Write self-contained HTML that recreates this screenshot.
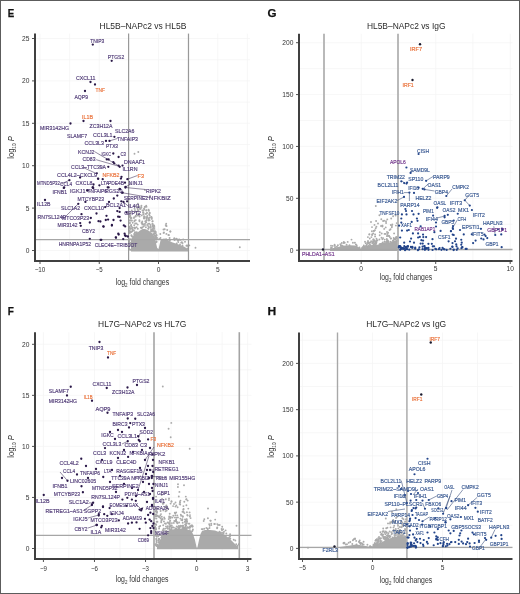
<!DOCTYPE html>
<html><head><meta charset="utf-8"><style>
html,body{margin:0;padding:0;background:#fff;}
svg{display:block;will-change:transform;}
text{font-family:"Liberation Sans",sans-serif;}
</style></head><body>
<svg width="520" height="594" viewBox="0 0 520 594">
<rect x="0" y="0" width="520" height="594" fill="#fff"/>
<text x="7.7" y="16.5" font-size="11.8" fill="#111" text-anchor="start" font-weight="bold" textLength="6.5" lengthAdjust="spacingAndGlyphs" stroke="#111" stroke-width="0.25">E</text>
<text x="142.9" y="28.8" font-size="8.6" fill="#2a2a2a" text-anchor="middle" font-weight="normal" textLength="86.8" lengthAdjust="spacingAndGlyphs">HL5B–NAPc2 vs HL5B</text>
<line x1="40" y1="33.6" x2="40" y2="261" stroke="#f4f4f4" stroke-width="0.7"/>
<line x1="69.62" y1="33.6" x2="69.62" y2="261" stroke="#f4f4f4" stroke-width="0.7"/>
<line x1="99.25" y1="33.6" x2="99.25" y2="261" stroke="#f4f4f4" stroke-width="0.7"/>
<line x1="158.5" y1="33.6" x2="158.5" y2="261" stroke="#f4f4f4" stroke-width="0.7"/>
<line x1="188.12" y1="33.6" x2="188.12" y2="261" stroke="#f4f4f4" stroke-width="0.7"/>
<line x1="217.75" y1="33.6" x2="217.75" y2="261" stroke="#f4f4f4" stroke-width="0.7"/>
<line x1="247.38" y1="33.6" x2="247.38" y2="261" stroke="#f4f4f4" stroke-width="0.7"/>
<line x1="35" y1="250.5" x2="250" y2="250.5" stroke="#f4f4f4" stroke-width="0.7"/>
<line x1="35" y1="229.3" x2="250" y2="229.3" stroke="#f4f4f4" stroke-width="0.7"/>
<line x1="35" y1="208.1" x2="250" y2="208.1" stroke="#f4f4f4" stroke-width="0.7"/>
<line x1="35" y1="186.9" x2="250" y2="186.9" stroke="#f4f4f4" stroke-width="0.7"/>
<line x1="35" y1="165.7" x2="250" y2="165.7" stroke="#f4f4f4" stroke-width="0.7"/>
<line x1="35" y1="144.5" x2="250" y2="144.5" stroke="#f4f4f4" stroke-width="0.7"/>
<line x1="35" y1="123.3" x2="250" y2="123.3" stroke="#f4f4f4" stroke-width="0.7"/>
<line x1="35" y1="102.1" x2="250" y2="102.1" stroke="#f4f4f4" stroke-width="0.7"/>
<line x1="35" y1="80.9" x2="250" y2="80.9" stroke="#f4f4f4" stroke-width="0.7"/>
<line x1="35" y1="59.7" x2="250" y2="59.7" stroke="#f4f4f4" stroke-width="0.7"/>
<line x1="35" y1="38.5" x2="250" y2="38.5" stroke="#f4f4f4" stroke-width="0.7"/>
<path d="M131.0,251.4 L131.0,240.0 L131.0,240.0 L133.0,236.0 L135.0,234.0 L137.5,232.5 L140.0,230.5 L142.6,229.0 L145.0,229.0 L148.0,230.2 L152.3,233.3 L155.0,237.7 L156.0,243.0 L157.2,248.0 L158.5,249.0 L159.7,244.0 L160.5,240.5 L162.0,239.0 L164.0,238.5 L166.0,239.0 L168.0,240.2 L172.0,242.3 L178.0,244.3 L184.0,246.5 L187.0,248.5 L188.2,249.5 L188.2,249.5 L188.2,251.4 Z" fill="#aaaaaa"/>
<g fill="#aaaaaa"><circle cx="141.7" cy="215.4" r="0.95"/><circle cx="154.9" cy="233.6" r="0.95"/><circle cx="143.2" cy="214.3" r="0.95"/><circle cx="134.2" cy="225.3" r="0.95"/><circle cx="146.6" cy="210.2" r="0.95"/><circle cx="131.6" cy="236.0" r="0.95"/><circle cx="131.5" cy="218.0" r="0.95"/><circle cx="148.4" cy="228.8" r="0.95"/><circle cx="156.5" cy="235.5" r="0.95"/><circle cx="147.3" cy="215.9" r="0.95"/><circle cx="133.4" cy="241.2" r="0.95"/><circle cx="143.8" cy="226.3" r="0.95"/><circle cx="134.3" cy="233.9" r="0.95"/><circle cx="129.8" cy="232.5" r="0.95"/><circle cx="141.3" cy="207.2" r="0.95"/><circle cx="143.5" cy="212.8" r="0.95"/><circle cx="143.0" cy="212.2" r="0.95"/><circle cx="141.8" cy="222.6" r="0.95"/><circle cx="156.9" cy="237.7" r="0.95"/><circle cx="152.5" cy="223.8" r="0.95"/><circle cx="137.8" cy="228.8" r="0.95"/><circle cx="137.1" cy="234.0" r="0.95"/><circle cx="150.5" cy="225.0" r="0.95"/><circle cx="152.7" cy="229.0" r="0.95"/><circle cx="155.8" cy="233.3" r="0.95"/><circle cx="129.0" cy="241.1" r="0.95"/><circle cx="154.5" cy="231.5" r="0.95"/><circle cx="156.5" cy="242.0" r="0.95"/><circle cx="131.0" cy="225.5" r="0.95"/><circle cx="150.8" cy="227.7" r="0.95"/><circle cx="131.4" cy="235.3" r="0.95"/><circle cx="156.0" cy="235.5" r="0.95"/><circle cx="132.3" cy="236.8" r="0.95"/><circle cx="131.8" cy="242.6" r="0.95"/><circle cx="151.3" cy="229.7" r="0.95"/><circle cx="144.7" cy="217.9" r="0.95"/><circle cx="134.3" cy="217.1" r="0.95"/><circle cx="132.7" cy="222.7" r="0.95"/><circle cx="132.3" cy="231.2" r="0.95"/><circle cx="135.0" cy="232.2" r="0.95"/><circle cx="156.2" cy="235.8" r="0.95"/><circle cx="137.5" cy="208.2" r="0.95"/><circle cx="134.9" cy="228.4" r="0.95"/><circle cx="152.9" cy="225.8" r="0.95"/><circle cx="131.8" cy="210.5" r="0.95"/><circle cx="135.0" cy="232.6" r="0.95"/><circle cx="150.6" cy="226.5" r="0.95"/><circle cx="137.3" cy="233.5" r="0.95"/><circle cx="131.5" cy="226.6" r="0.95"/><circle cx="135.8" cy="220.1" r="0.95"/><circle cx="139.4" cy="220.2" r="0.95"/><circle cx="155.9" cy="238.6" r="0.95"/><circle cx="145.1" cy="206.7" r="0.95"/><circle cx="134.1" cy="236.8" r="0.95"/><circle cx="154.4" cy="226.9" r="0.95"/><circle cx="136.0" cy="232.9" r="0.95"/><circle cx="149.7" cy="212.7" r="0.95"/><circle cx="134.5" cy="208.6" r="0.95"/><circle cx="153.7" cy="228.1" r="0.95"/><circle cx="140.8" cy="227.6" r="0.95"/><circle cx="130.1" cy="214.0" r="0.95"/><circle cx="135.7" cy="216.6" r="0.95"/><circle cx="136.2" cy="211.7" r="0.95"/><circle cx="145.7" cy="221.8" r="0.95"/><circle cx="133.9" cy="218.0" r="0.95"/><circle cx="130.9" cy="239.3" r="0.95"/><circle cx="144.7" cy="207.0" r="0.95"/><circle cx="146.2" cy="222.4" r="0.95"/><circle cx="154.7" cy="235.7" r="0.95"/><circle cx="129.5" cy="239.1" r="0.95"/><circle cx="141.5" cy="227.7" r="0.95"/><circle cx="133.9" cy="230.5" r="0.95"/><circle cx="145.0" cy="225.1" r="0.95"/><circle cx="139.1" cy="206.5" r="0.95"/><circle cx="156.5" cy="239.0" r="0.95"/><circle cx="148.4" cy="218.3" r="0.95"/><circle cx="132.9" cy="241.5" r="0.95"/><circle cx="129.5" cy="216.8" r="0.95"/><circle cx="148.6" cy="209.8" r="0.95"/><circle cx="129.6" cy="226.8" r="0.95"/><circle cx="142.5" cy="210.4" r="0.95"/><circle cx="137.9" cy="203.7" r="0.95"/><circle cx="131.1" cy="228.5" r="0.95"/><circle cx="149.6" cy="213.4" r="0.95"/><circle cx="149.6" cy="217.7" r="0.95"/><circle cx="151.2" cy="217.0" r="0.95"/><circle cx="138.9" cy="213.6" r="0.95"/><circle cx="154.2" cy="225.7" r="0.95"/><circle cx="140.7" cy="208.8" r="0.95"/><circle cx="153.2" cy="227.4" r="0.95"/><circle cx="146.5" cy="220.4" r="0.95"/><circle cx="145.3" cy="213.9" r="0.95"/><circle cx="131.2" cy="224.9" r="0.95"/><circle cx="156.8" cy="238.2" r="0.95"/><circle cx="149.4" cy="223.8" r="0.95"/><circle cx="149.6" cy="220.2" r="0.95"/><circle cx="141.3" cy="207.3" r="0.95"/><circle cx="131.3" cy="220.6" r="0.95"/><circle cx="129.8" cy="227.8" r="0.95"/><circle cx="142.5" cy="223.4" r="0.95"/><circle cx="148.6" cy="220.5" r="0.95"/><circle cx="146.2" cy="205.8" r="0.95"/><circle cx="136.2" cy="236.8" r="0.95"/><circle cx="137.4" cy="215.5" r="0.95"/><circle cx="134.7" cy="235.6" r="0.95"/><circle cx="154.4" cy="228.9" r="0.95"/><circle cx="141.4" cy="205.6" r="0.95"/><circle cx="138.2" cy="215.1" r="0.95"/><circle cx="134.6" cy="227.6" r="0.95"/><circle cx="151.6" cy="218.0" r="0.95"/><circle cx="153.6" cy="230.9" r="0.95"/><circle cx="145.3" cy="221.2" r="0.95"/><circle cx="132.8" cy="227.8" r="0.95"/><circle cx="152.4" cy="221.4" r="0.95"/><circle cx="148.9" cy="210.8" r="0.95"/><circle cx="136.8" cy="232.2" r="0.95"/><circle cx="141.6" cy="222.9" r="0.95"/><circle cx="135.0" cy="227.6" r="0.95"/><circle cx="146.5" cy="217.7" r="0.95"/><circle cx="137.8" cy="209.5" r="0.95"/><circle cx="156.5" cy="241.5" r="0.95"/><circle cx="131.1" cy="244.3" r="0.95"/><circle cx="153.4" cy="234.3" r="0.95"/><circle cx="148.8" cy="219.3" r="0.95"/><circle cx="137.7" cy="211.4" r="0.95"/><circle cx="129.5" cy="242.8" r="0.95"/><circle cx="141.7" cy="228.0" r="0.95"/><circle cx="152.2" cy="230.1" r="0.95"/><circle cx="132.9" cy="241.2" r="0.95"/><circle cx="146.6" cy="219.0" r="0.95"/><circle cx="146.6" cy="213.8" r="0.95"/><circle cx="151.6" cy="217.3" r="0.95"/><circle cx="148.2" cy="226.1" r="0.95"/><circle cx="142.3" cy="224.6" r="0.95"/><circle cx="129.3" cy="232.7" r="0.95"/><circle cx="149.0" cy="227.2" r="0.95"/><circle cx="136.6" cy="227.3" r="0.95"/><circle cx="148.5" cy="219.9" r="0.95"/><circle cx="146.2" cy="210.4" r="0.95"/><circle cx="140.0" cy="208.9" r="0.95"/><circle cx="154.4" cy="235.5" r="0.95"/><circle cx="155.1" cy="231.1" r="0.95"/><circle cx="132.6" cy="229.5" r="0.95"/><circle cx="146.5" cy="206.7" r="0.95"/><circle cx="139.6" cy="216.5" r="0.95"/><circle cx="153.6" cy="225.2" r="0.95"/><circle cx="155.4" cy="237.0" r="0.95"/><circle cx="147.2" cy="225.0" r="0.95"/><circle cx="149.2" cy="214.4" r="0.95"/><circle cx="147.0" cy="212.7" r="0.95"/><circle cx="135.0" cy="210.1" r="0.95"/><circle cx="156.5" cy="235.0" r="0.95"/><circle cx="144.0" cy="208.6" r="0.95"/><circle cx="138.0" cy="206.9" r="0.95"/><circle cx="153.0" cy="230.0" r="0.95"/><circle cx="131.3" cy="231.9" r="0.95"/><circle cx="144.4" cy="209.3" r="0.95"/><circle cx="142.6" cy="227.3" r="0.95"/><circle cx="151.7" cy="231.4" r="0.95"/><circle cx="151.4" cy="229.8" r="0.95"/><circle cx="138.4" cy="210.7" r="0.95"/><circle cx="132.9" cy="238.7" r="0.95"/><circle cx="143.5" cy="210.5" r="0.95"/><circle cx="152.5" cy="224.1" r="0.95"/><circle cx="155.5" cy="236.9" r="0.95"/><circle cx="155.6" cy="242.5" r="0.95"/><circle cx="135.2" cy="223.5" r="0.95"/><circle cx="137.1" cy="214.1" r="0.95"/><circle cx="146.9" cy="217.5" r="0.95"/><circle cx="152.6" cy="226.3" r="0.95"/><circle cx="137.7" cy="224.6" r="0.95"/><circle cx="152.7" cy="221.1" r="0.95"/><circle cx="134.8" cy="212.1" r="0.95"/><circle cx="156.1" cy="239.1" r="0.95"/><circle cx="145.0" cy="223.7" r="0.95"/><circle cx="144.0" cy="216.3" r="0.95"/><circle cx="145.9" cy="227.2" r="0.95"/><circle cx="156.1" cy="239.4" r="0.95"/><circle cx="140.2" cy="208.6" r="0.95"/><circle cx="144.8" cy="216.8" r="0.95"/><circle cx="148.3" cy="228.5" r="0.95"/><circle cx="144.1" cy="218.6" r="0.95"/><circle cx="155.8" cy="231.9" r="0.95"/><circle cx="136.5" cy="223.5" r="0.95"/><circle cx="132.6" cy="230.3" r="0.95"/><circle cx="151.8" cy="218.9" r="0.95"/><circle cx="142.3" cy="221.4" r="0.95"/><circle cx="134.4" cy="221.3" r="0.95"/><circle cx="154.9" cy="237.9" r="0.95"/><circle cx="150.8" cy="231.1" r="0.95"/><circle cx="134.4" cy="234.2" r="0.95"/><circle cx="148.2" cy="223.7" r="0.95"/><circle cx="138.9" cy="215.6" r="0.95"/><circle cx="131.9" cy="220.5" r="0.95"/><circle cx="132.4" cy="227.8" r="0.95"/><circle cx="136.0" cy="232.6" r="0.95"/><circle cx="143.8" cy="218.0" r="0.95"/><circle cx="139.5" cy="221.2" r="0.95"/><circle cx="143.8" cy="224.4" r="0.95"/><circle cx="134.7" cy="220.4" r="0.95"/><circle cx="146.9" cy="217.3" r="0.95"/><circle cx="152.8" cy="226.0" r="0.95"/><circle cx="153.0" cy="231.5" r="0.95"/><circle cx="149.7" cy="215.6" r="0.95"/><circle cx="154.3" cy="232.9" r="0.95"/><circle cx="137.8" cy="206.6" r="0.95"/><circle cx="135.1" cy="206.1" r="0.95"/><circle cx="153.9" cy="234.1" r="0.95"/><circle cx="135.7" cy="215.8" r="0.95"/><circle cx="136.3" cy="234.8" r="0.95"/><circle cx="130.6" cy="231.6" r="0.95"/><circle cx="130.6" cy="243.6" r="0.95"/><circle cx="129.7" cy="223.1" r="0.95"/><circle cx="128.9" cy="240.7" r="0.95"/><circle cx="130.3" cy="215.4" r="0.95"/><circle cx="130.9" cy="244.1" r="0.95"/><circle cx="130.0" cy="220.5" r="0.95"/><circle cx="130.0" cy="222.9" r="0.95"/><circle cx="129.3" cy="246.5" r="0.95"/><circle cx="129.1" cy="248.3" r="0.95"/><circle cx="130.1" cy="228.6" r="0.95"/><circle cx="130.1" cy="242.8" r="0.95"/><circle cx="129.3" cy="240.5" r="0.95"/><circle cx="130.7" cy="212.6" r="0.95"/><circle cx="130.8" cy="245.1" r="0.95"/><circle cx="129.0" cy="215.3" r="0.95"/><circle cx="129.9" cy="220.4" r="0.95"/><circle cx="129.6" cy="230.5" r="0.95"/><circle cx="130.0" cy="231.6" r="0.95"/><circle cx="130.2" cy="249.8" r="0.95"/><circle cx="130.4" cy="217.5" r="0.95"/><circle cx="129.3" cy="231.1" r="0.95"/><circle cx="130.5" cy="232.3" r="0.95"/><circle cx="129.3" cy="242.2" r="0.95"/><circle cx="130.0" cy="249.6" r="0.95"/><circle cx="130.8" cy="218.5" r="0.95"/><circle cx="130.4" cy="216.9" r="0.95"/><circle cx="130.2" cy="232.5" r="0.95"/><circle cx="130.2" cy="228.9" r="0.95"/><circle cx="131.0" cy="218.2" r="0.95"/><circle cx="166.5" cy="226.1" r="0.95"/><circle cx="180.6" cy="239.9" r="0.95"/><circle cx="182.6" cy="243.1" r="0.95"/><circle cx="185.0" cy="241.7" r="0.95"/><circle cx="179.1" cy="239.5" r="0.95"/><circle cx="181.2" cy="242.6" r="0.95"/><circle cx="180.0" cy="244.5" r="0.95"/><circle cx="168.9" cy="235.1" r="0.95"/><circle cx="159.3" cy="239.0" r="0.95"/><circle cx="177.5" cy="240.0" r="0.95"/><circle cx="165.7" cy="225.1" r="0.95"/><circle cx="178.3" cy="242.1" r="0.95"/><circle cx="178.1" cy="240.5" r="0.95"/><circle cx="174.5" cy="240.0" r="0.95"/><circle cx="188.0" cy="245.8" r="0.95"/><circle cx="179.3" cy="239.6" r="0.95"/><circle cx="187.4" cy="248.5" r="0.95"/><circle cx="176.8" cy="239.0" r="0.95"/><circle cx="166.4" cy="233.9" r="0.95"/><circle cx="160.5" cy="238.0" r="0.95"/><circle cx="169.9" cy="240.4" r="0.95"/><circle cx="166.3" cy="225.9" r="0.95"/><circle cx="175.0" cy="239.5" r="0.95"/><circle cx="187.0" cy="245.4" r="0.95"/><circle cx="187.9" cy="245.7" r="0.95"/><circle cx="182.5" cy="245.4" r="0.95"/><circle cx="176.3" cy="238.7" r="0.95"/><circle cx="160.3" cy="234.0" r="0.95"/><circle cx="163.6" cy="232.9" r="0.95"/><circle cx="163.9" cy="232.5" r="0.95"/><circle cx="176.7" cy="243.5" r="0.95"/><circle cx="186.4" cy="245.7" r="0.95"/><circle cx="174.3" cy="238.2" r="0.95"/><circle cx="169.6" cy="238.0" r="0.95"/><circle cx="178.0" cy="240.5" r="0.95"/><circle cx="167.2" cy="230.0" r="0.95"/><circle cx="167.6" cy="240.4" r="0.95"/><circle cx="166.1" cy="239.2" r="0.95"/><circle cx="163.5" cy="229.5" r="0.95"/><circle cx="170.3" cy="231.5" r="0.95"/><circle cx="195.5" cy="247.7" r="0.95"/><circle cx="239.8" cy="247.3" r="0.95"/><circle cx="189.3" cy="245.4" r="0.95"/><circle cx="138.3" cy="152.0" r="0.95"/><circle cx="134.5" cy="153.8" r="0.95"/><circle cx="141.0" cy="160.0" r="0.95"/><circle cx="145.0" cy="190.0" r="0.95"/><circle cx="150.0" cy="196.0" r="0.95"/><circle cx="166.2" cy="223.8" r="0.95"/><circle cx="170.4" cy="231.5" r="0.95"/><circle cx="164.7" cy="229.2" r="0.95"/><circle cx="168.4" cy="235.0" r="0.95"/><circle cx="174.2" cy="238.9" r="0.95"/><circle cx="183.2" cy="239.5" r="0.95"/><circle cx="181.9" cy="242.3" r="0.95"/></g>
<line x1="128.6" y1="33.6" x2="128.6" y2="261" stroke="#999" stroke-width="1.2"/>
<line x1="188.5" y1="33.6" x2="188.5" y2="261" stroke="#999" stroke-width="1.2"/>
<line x1="35" y1="239.6" x2="250" y2="239.6" stroke="#a6a6a6" stroke-width="1.3"/>
<line x1="35" y1="33.6" x2="35" y2="262" stroke="#404040" stroke-width="2"/>
<line x1="34" y1="261" x2="250" y2="261" stroke="#404040" stroke-width="2"/>
<line x1="32" y1="250.5" x2="35" y2="250.5" stroke="#404040" stroke-width="0.9"/>
<text x="29.4" y="253" font-size="7" fill="#333" text-anchor="end" font-weight="normal" textLength="3.7" lengthAdjust="spacingAndGlyphs">0</text>
<line x1="32" y1="208.1" x2="35" y2="208.1" stroke="#404040" stroke-width="0.9"/>
<text x="29.4" y="210.6" font-size="7" fill="#333" text-anchor="end" font-weight="normal" textLength="3.7" lengthAdjust="spacingAndGlyphs">5</text>
<line x1="32" y1="165.7" x2="35" y2="165.7" stroke="#404040" stroke-width="0.9"/>
<text x="29.4" y="168.2" font-size="7" fill="#333" text-anchor="end" font-weight="normal" textLength="7.4" lengthAdjust="spacingAndGlyphs">10</text>
<line x1="32" y1="123.3" x2="35" y2="123.3" stroke="#404040" stroke-width="0.9"/>
<text x="29.4" y="125.8" font-size="7" fill="#333" text-anchor="end" font-weight="normal" textLength="7.4" lengthAdjust="spacingAndGlyphs">15</text>
<line x1="32" y1="80.9" x2="35" y2="80.9" stroke="#404040" stroke-width="0.9"/>
<text x="29.4" y="83.4" font-size="7" fill="#333" text-anchor="end" font-weight="normal" textLength="7.4" lengthAdjust="spacingAndGlyphs">20</text>
<line x1="32" y1="38.5" x2="35" y2="38.5" stroke="#404040" stroke-width="0.9"/>
<text x="29.4" y="41" font-size="7" fill="#333" text-anchor="end" font-weight="normal" textLength="7.4" lengthAdjust="spacingAndGlyphs">25</text>
<line x1="40" y1="261" x2="40" y2="264" stroke="#404040" stroke-width="0.9"/>
<text x="40" y="272.2" font-size="7" fill="#333" text-anchor="middle" font-weight="normal" textLength="10.7" lengthAdjust="spacingAndGlyphs">−10</text>
<line x1="99.25" y1="261" x2="99.25" y2="264" stroke="#404040" stroke-width="0.9"/>
<text x="99.25" y="272.2" font-size="7" fill="#333" text-anchor="middle" font-weight="normal" textLength="7.0" lengthAdjust="spacingAndGlyphs">−5</text>
<line x1="158.5" y1="261" x2="158.5" y2="264" stroke="#404040" stroke-width="0.9"/>
<text x="158.5" y="272.2" font-size="7" fill="#333" text-anchor="middle" font-weight="normal" textLength="3.7" lengthAdjust="spacingAndGlyphs">0</text>
<line x1="217.75" y1="261" x2="217.75" y2="264" stroke="#404040" stroke-width="0.9"/>
<text x="217.75" y="272.2" font-size="7" fill="#333" text-anchor="middle" font-weight="normal" textLength="3.7" lengthAdjust="spacingAndGlyphs">5</text>
<text x="115.7" y="284.6" font-size="8.4" fill="#333" textLength="53.5" lengthAdjust="spacingAndGlyphs">log<tspan font-size="5.4" dy="1.9">2</tspan><tspan dy="-1.9"> fold changes</tspan></text>
<text transform="translate(14.4,147.5) rotate(-90)" x="0" y="0" font-size="8.4" fill="#333" text-anchor="middle" textLength="22.5" lengthAdjust="spacingAndGlyphs">log<tspan font-size="5.2" dy="1.7">10</tspan><tspan dy="-1.7" font-style="italic"> P</tspan></text>
<text x="7.7" y="314.7" font-size="11.8" fill="#111" text-anchor="start" font-weight="bold" textLength="6.1" lengthAdjust="spacingAndGlyphs" stroke="#111" stroke-width="0.25">F</text>
<text x="142.2" y="326.8" font-size="8.6" fill="#2a2a2a" text-anchor="middle" font-weight="normal" textLength="88.3" lengthAdjust="spacingAndGlyphs">HL7G–NAPc2 vs HL7G</text>
<line x1="43.42" y1="332.2" x2="43.42" y2="559" stroke="#f4f4f4" stroke-width="0.7"/>
<line x1="68.95" y1="332.2" x2="68.95" y2="559" stroke="#f4f4f4" stroke-width="0.7"/>
<line x1="94.48" y1="332.2" x2="94.48" y2="559" stroke="#f4f4f4" stroke-width="0.7"/>
<line x1="120.01" y1="332.2" x2="120.01" y2="559" stroke="#f4f4f4" stroke-width="0.7"/>
<line x1="145.54" y1="332.2" x2="145.54" y2="559" stroke="#f4f4f4" stroke-width="0.7"/>
<line x1="171.07" y1="332.2" x2="171.07" y2="559" stroke="#f4f4f4" stroke-width="0.7"/>
<line x1="196.6" y1="332.2" x2="196.6" y2="559" stroke="#f4f4f4" stroke-width="0.7"/>
<line x1="222.13" y1="332.2" x2="222.13" y2="559" stroke="#f4f4f4" stroke-width="0.7"/>
<line x1="247.66" y1="332.2" x2="247.66" y2="559" stroke="#f4f4f4" stroke-width="0.7"/>
<line x1="35" y1="548.5" x2="251.5" y2="548.5" stroke="#f4f4f4" stroke-width="0.7"/>
<line x1="35" y1="522.98" x2="251.5" y2="522.98" stroke="#f4f4f4" stroke-width="0.7"/>
<line x1="35" y1="497.45" x2="251.5" y2="497.45" stroke="#f4f4f4" stroke-width="0.7"/>
<line x1="35" y1="471.93" x2="251.5" y2="471.93" stroke="#f4f4f4" stroke-width="0.7"/>
<line x1="35" y1="446.4" x2="251.5" y2="446.4" stroke="#f4f4f4" stroke-width="0.7"/>
<line x1="35" y1="420.88" x2="251.5" y2="420.88" stroke="#f4f4f4" stroke-width="0.7"/>
<line x1="35" y1="395.35" x2="251.5" y2="395.35" stroke="#f4f4f4" stroke-width="0.7"/>
<line x1="35" y1="369.82" x2="251.5" y2="369.82" stroke="#f4f4f4" stroke-width="0.7"/>
<line x1="35" y1="344.3" x2="251.5" y2="344.3" stroke="#f4f4f4" stroke-width="0.7"/>
<path d="M157.0,549.3 L157.0,545.0 L158.0,545.0 L160.0,540.0 L163.0,535.0 L166.0,532.0 L170.0,530.0 L175.0,529.0 L180.0,528.5 L185.0,529.0 L189.0,530.0 L191.5,531.5 L193.0,534.0 L195.0,540.0 L196.6,547.5 L197.4,547.5 L199.0,540.0 L200.5,534.0 L202.0,531.0 L205.0,530.0 L210.0,530.0 L215.0,530.5 L220.0,532.5 L225.0,535.0 L230.0,539.0 L234.0,543.0 L237.0,546.0 L238.0,546.0 L238.0,549.3 Z" fill="#aaaaaa"/>
<g fill="#aaaaaa"><circle cx="183.7" cy="528.8" r="0.95"/><circle cx="192.6" cy="526.6" r="0.95"/><circle cx="158.7" cy="516.8" r="0.95"/><circle cx="171.9" cy="523.1" r="0.95"/><circle cx="192.0" cy="531.4" r="0.95"/><circle cx="175.4" cy="506.6" r="0.95"/><circle cx="182.7" cy="522.8" r="0.95"/><circle cx="192.2" cy="525.4" r="0.95"/><circle cx="178.3" cy="528.1" r="0.95"/><circle cx="179.1" cy="522.5" r="0.95"/><circle cx="163.5" cy="534.3" r="0.95"/><circle cx="175.5" cy="528.4" r="0.95"/><circle cx="172.4" cy="517.6" r="0.95"/><circle cx="172.9" cy="527.2" r="0.95"/><circle cx="177.5" cy="523.4" r="0.95"/><circle cx="184.8" cy="521.8" r="0.95"/><circle cx="192.9" cy="529.5" r="0.95"/><circle cx="183.2" cy="527.1" r="0.95"/><circle cx="160.2" cy="515.4" r="0.95"/><circle cx="185.0" cy="519.5" r="0.95"/><circle cx="169.3" cy="528.0" r="0.95"/><circle cx="181.3" cy="520.1" r="0.95"/><circle cx="177.9" cy="517.4" r="0.95"/><circle cx="183.9" cy="527.7" r="0.95"/><circle cx="165.2" cy="507.5" r="0.95"/><circle cx="189.9" cy="516.6" r="0.95"/><circle cx="157.5" cy="545.6" r="0.95"/><circle cx="166.0" cy="526.4" r="0.95"/><circle cx="179.1" cy="528.2" r="0.95"/><circle cx="176.0" cy="528.7" r="0.95"/><circle cx="159.2" cy="526.7" r="0.95"/><circle cx="176.4" cy="517.8" r="0.95"/><circle cx="169.8" cy="523.5" r="0.95"/><circle cx="163.8" cy="530.3" r="0.95"/><circle cx="183.6" cy="512.0" r="0.95"/><circle cx="158.8" cy="542.4" r="0.95"/><circle cx="185.9" cy="520.0" r="0.95"/><circle cx="184.4" cy="527.5" r="0.95"/><circle cx="171.7" cy="527.5" r="0.95"/><circle cx="186.0" cy="525.6" r="0.95"/><circle cx="180.2" cy="504.6" r="0.95"/><circle cx="168.0" cy="522.4" r="0.95"/><circle cx="183.6" cy="509.0" r="0.95"/><circle cx="171.8" cy="525.5" r="0.95"/><circle cx="159.6" cy="517.0" r="0.95"/><circle cx="158.9" cy="542.4" r="0.95"/><circle cx="176.9" cy="521.9" r="0.95"/><circle cx="181.4" cy="525.9" r="0.95"/><circle cx="184.7" cy="528.8" r="0.95"/><circle cx="163.9" cy="521.4" r="0.95"/><circle cx="159.0" cy="538.8" r="0.95"/><circle cx="182.8" cy="516.7" r="0.95"/><circle cx="166.5" cy="531.0" r="0.95"/><circle cx="169.2" cy="516.4" r="0.95"/><circle cx="169.6" cy="529.7" r="0.95"/><circle cx="182.2" cy="520.2" r="0.95"/><circle cx="190.0" cy="515.1" r="0.95"/><circle cx="189.8" cy="526.4" r="0.95"/><circle cx="185.7" cy="526.6" r="0.95"/><circle cx="167.8" cy="526.2" r="0.95"/><circle cx="190.6" cy="518.1" r="0.95"/><circle cx="165.2" cy="528.6" r="0.95"/><circle cx="169.5" cy="526.2" r="0.95"/><circle cx="170.6" cy="525.4" r="0.95"/><circle cx="163.2" cy="525.2" r="0.95"/><circle cx="185.5" cy="521.9" r="0.95"/><circle cx="186.9" cy="522.0" r="0.95"/><circle cx="162.5" cy="519.1" r="0.95"/><circle cx="188.6" cy="527.8" r="0.95"/><circle cx="156.8" cy="536.8" r="0.95"/><circle cx="176.1" cy="519.8" r="0.95"/><circle cx="191.8" cy="526.0" r="0.95"/><circle cx="185.8" cy="529.0" r="0.95"/><circle cx="176.2" cy="512.4" r="0.95"/><circle cx="159.1" cy="541.9" r="0.95"/><circle cx="183.3" cy="509.7" r="0.95"/><circle cx="159.1" cy="528.5" r="0.95"/><circle cx="161.3" cy="520.9" r="0.95"/><circle cx="180.0" cy="526.5" r="0.95"/><circle cx="164.2" cy="517.4" r="0.95"/><circle cx="175.3" cy="513.5" r="0.95"/><circle cx="170.6" cy="526.4" r="0.95"/><circle cx="191.8" cy="525.9" r="0.95"/><circle cx="174.3" cy="521.0" r="0.95"/><circle cx="182.7" cy="516.2" r="0.95"/><circle cx="189.9" cy="527.0" r="0.95"/><circle cx="186.6" cy="519.1" r="0.95"/><circle cx="187.6" cy="515.6" r="0.95"/><circle cx="186.9" cy="512.3" r="0.95"/><circle cx="191.4" cy="525.5" r="0.95"/><circle cx="175.4" cy="515.4" r="0.95"/><circle cx="185.7" cy="524.6" r="0.95"/><circle cx="171.6" cy="528.9" r="0.95"/><circle cx="183.4" cy="506.1" r="0.95"/><circle cx="169.9" cy="529.1" r="0.95"/><circle cx="163.6" cy="528.7" r="0.95"/><circle cx="166.8" cy="507.2" r="0.95"/><circle cx="158.2" cy="540.6" r="0.95"/><circle cx="160.2" cy="526.0" r="0.95"/><circle cx="184.7" cy="528.0" r="0.95"/><circle cx="158.3" cy="536.3" r="0.95"/><circle cx="177.6" cy="507.2" r="0.95"/><circle cx="157.3" cy="545.4" r="0.95"/><circle cx="162.8" cy="533.5" r="0.95"/><circle cx="164.7" cy="518.8" r="0.95"/><circle cx="178.0" cy="527.0" r="0.95"/><circle cx="162.8" cy="532.5" r="0.95"/><circle cx="162.4" cy="519.3" r="0.95"/><circle cx="167.5" cy="522.6" r="0.95"/><circle cx="186.2" cy="523.6" r="0.95"/><circle cx="165.6" cy="511.3" r="0.95"/><circle cx="189.8" cy="527.9" r="0.95"/><circle cx="176.3" cy="505.5" r="0.95"/><circle cx="173.9" cy="527.6" r="0.95"/><circle cx="157.8" cy="515.7" r="0.95"/><circle cx="185.7" cy="525.2" r="0.95"/><circle cx="175.5" cy="521.3" r="0.95"/><circle cx="166.2" cy="506.4" r="0.95"/><circle cx="180.3" cy="526.7" r="0.95"/><circle cx="156.4" cy="538.9" r="0.95"/><circle cx="169.7" cy="513.7" r="0.95"/><circle cx="182.4" cy="519.2" r="0.95"/><circle cx="161.8" cy="536.0" r="0.95"/><circle cx="167.9" cy="528.8" r="0.95"/><circle cx="188.2" cy="523.6" r="0.95"/><circle cx="179.6" cy="504.1" r="0.95"/><circle cx="165.9" cy="523.7" r="0.95"/><circle cx="161.6" cy="519.6" r="0.95"/><circle cx="156.1" cy="524.8" r="0.95"/><circle cx="187.3" cy="514.9" r="0.95"/><circle cx="159.0" cy="539.4" r="0.95"/><circle cx="182.5" cy="528.4" r="0.95"/><circle cx="173.8" cy="522.9" r="0.95"/><circle cx="191.4" cy="526.2" r="0.95"/><circle cx="187.7" cy="527.3" r="0.95"/><circle cx="185.2" cy="524.5" r="0.95"/><circle cx="189.9" cy="530.3" r="0.95"/><circle cx="186.6" cy="528.1" r="0.95"/><circle cx="176.1" cy="521.0" r="0.95"/><circle cx="161.8" cy="516.7" r="0.95"/><circle cx="167.5" cy="528.1" r="0.95"/><circle cx="158.8" cy="539.2" r="0.95"/><circle cx="173.3" cy="515.8" r="0.95"/><circle cx="169.3" cy="517.7" r="0.95"/><circle cx="159.9" cy="534.6" r="0.95"/><circle cx="173.1" cy="506.1" r="0.95"/><circle cx="186.7" cy="519.5" r="0.95"/><circle cx="156.5" cy="541.6" r="0.95"/><circle cx="182.3" cy="527.0" r="0.95"/><circle cx="176.9" cy="522.6" r="0.95"/><circle cx="156.4" cy="515.0" r="0.95"/><circle cx="185.6" cy="527.9" r="0.95"/><circle cx="178.8" cy="525.9" r="0.95"/><circle cx="169.9" cy="521.9" r="0.95"/><circle cx="167.0" cy="527.9" r="0.95"/><circle cx="170.5" cy="518.0" r="0.95"/><circle cx="165.5" cy="531.1" r="0.95"/><circle cx="183.1" cy="525.7" r="0.95"/><circle cx="191.0" cy="526.0" r="0.95"/><circle cx="182.8" cy="525.6" r="0.95"/><circle cx="186.6" cy="529.1" r="0.95"/><circle cx="161.2" cy="537.6" r="0.95"/><circle cx="181.1" cy="515.7" r="0.95"/><circle cx="162.7" cy="530.3" r="0.95"/><circle cx="187.0" cy="521.3" r="0.95"/><circle cx="159.3" cy="539.5" r="0.95"/><circle cx="161.8" cy="536.3" r="0.95"/><circle cx="171.1" cy="529.6" r="0.95"/><circle cx="190.1" cy="526.9" r="0.95"/><circle cx="174.9" cy="517.6" r="0.95"/><circle cx="184.4" cy="513.1" r="0.95"/><circle cx="170.3" cy="526.6" r="0.95"/><circle cx="171.2" cy="529.7" r="0.95"/><circle cx="170.8" cy="516.9" r="0.95"/><circle cx="192.3" cy="526.6" r="0.95"/><circle cx="180.4" cy="518.6" r="0.95"/><circle cx="156.7" cy="542.5" r="0.95"/><circle cx="168.7" cy="519.1" r="0.95"/><circle cx="159.9" cy="535.0" r="0.95"/><circle cx="174.8" cy="512.7" r="0.95"/><circle cx="186.5" cy="520.6" r="0.95"/><circle cx="161.9" cy="519.5" r="0.95"/><circle cx="189.4" cy="523.8" r="0.95"/><circle cx="169.0" cy="523.3" r="0.95"/><circle cx="161.2" cy="522.3" r="0.95"/><circle cx="192.5" cy="530.7" r="0.95"/><circle cx="182.5" cy="511.7" r="0.95"/><circle cx="163.3" cy="510.4" r="0.95"/><circle cx="179.2" cy="527.2" r="0.95"/><circle cx="159.1" cy="539.8" r="0.95"/><circle cx="177.3" cy="515.4" r="0.95"/><circle cx="168.2" cy="508.8" r="0.95"/><circle cx="169.4" cy="524.1" r="0.95"/><circle cx="160.6" cy="511.0" r="0.95"/><circle cx="161.0" cy="514.1" r="0.95"/><circle cx="176.1" cy="520.0" r="0.95"/><circle cx="176.7" cy="526.5" r="0.95"/><circle cx="189.6" cy="512.4" r="0.95"/><circle cx="186.2" cy="520.7" r="0.95"/><circle cx="160.5" cy="518.3" r="0.95"/><circle cx="166.7" cy="510.5" r="0.95"/><circle cx="164.9" cy="523.4" r="0.95"/><circle cx="186.7" cy="528.4" r="0.95"/><circle cx="176.3" cy="528.6" r="0.95"/><circle cx="157.2" cy="544.7" r="0.95"/><circle cx="192.5" cy="526.0" r="0.95"/><circle cx="180.4" cy="525.6" r="0.95"/><circle cx="180.8" cy="514.6" r="0.95"/><circle cx="170.1" cy="520.4" r="0.95"/><circle cx="185.7" cy="529.2" r="0.95"/><circle cx="155.2" cy="526.7" r="0.95"/><circle cx="155.0" cy="529.8" r="0.95"/><circle cx="156.3" cy="538.9" r="0.95"/><circle cx="156.1" cy="534.9" r="0.95"/><circle cx="156.2" cy="532.0" r="0.95"/><circle cx="156.5" cy="546.0" r="0.95"/><circle cx="156.5" cy="540.3" r="0.95"/><circle cx="157.4" cy="521.8" r="0.95"/><circle cx="156.0" cy="528.9" r="0.95"/><circle cx="156.4" cy="518.6" r="0.95"/><circle cx="156.8" cy="516.4" r="0.95"/><circle cx="156.0" cy="508.2" r="0.95"/><circle cx="157.0" cy="512.8" r="0.95"/><circle cx="155.8" cy="528.0" r="0.95"/><circle cx="156.2" cy="511.1" r="0.95"/><circle cx="156.1" cy="524.5" r="0.95"/><circle cx="155.9" cy="511.2" r="0.95"/><circle cx="155.5" cy="545.0" r="0.95"/><circle cx="156.7" cy="511.3" r="0.95"/><circle cx="156.7" cy="521.8" r="0.95"/><circle cx="156.8" cy="533.2" r="0.95"/><circle cx="156.3" cy="544.1" r="0.95"/><circle cx="155.0" cy="527.5" r="0.95"/><circle cx="156.1" cy="529.4" r="0.95"/><circle cx="154.8" cy="518.4" r="0.95"/><circle cx="156.1" cy="535.9" r="0.95"/><circle cx="155.5" cy="529.5" r="0.95"/><circle cx="155.3" cy="544.2" r="0.95"/><circle cx="157.2" cy="509.1" r="0.95"/><circle cx="156.5" cy="512.4" r="0.95"/><circle cx="155.8" cy="514.5" r="0.95"/><circle cx="155.2" cy="516.5" r="0.95"/><circle cx="156.2" cy="511.2" r="0.95"/><circle cx="154.9" cy="515.0" r="0.95"/><circle cx="155.0" cy="524.0" r="0.95"/><circle cx="188.3" cy="508.6" r="0.95"/><circle cx="163.5" cy="503.5" r="0.95"/><circle cx="166.4" cy="505.5" r="0.95"/><circle cx="186.3" cy="499.4" r="0.95"/><circle cx="168.9" cy="500.1" r="0.95"/><circle cx="175.5" cy="502.5" r="0.95"/><circle cx="156.1" cy="496.6" r="0.95"/><circle cx="165.8" cy="499.2" r="0.95"/><circle cx="187.7" cy="500.6" r="0.95"/><circle cx="171.5" cy="501.3" r="0.95"/><circle cx="165.3" cy="493.0" r="0.95"/><circle cx="186.4" cy="505.3" r="0.95"/><circle cx="184.3" cy="501.8" r="0.95"/><circle cx="171.5" cy="501.8" r="0.95"/><circle cx="185.8" cy="496.6" r="0.95"/><circle cx="162.1" cy="498.9" r="0.95"/><circle cx="161.7" cy="495.0" r="0.95"/><circle cx="156.8" cy="511.6" r="0.95"/><circle cx="180.4" cy="500.6" r="0.95"/><circle cx="186.5" cy="499.2" r="0.95"/><circle cx="180.0" cy="502.7" r="0.95"/><circle cx="179.4" cy="491.9" r="0.95"/><circle cx="170.6" cy="503.6" r="0.95"/><circle cx="162.8" cy="503.8" r="0.95"/><circle cx="179.9" cy="501.9" r="0.95"/><circle cx="207.7" cy="528.6" r="0.95"/><circle cx="225.6" cy="530.4" r="0.95"/><circle cx="214.8" cy="524.0" r="0.95"/><circle cx="233.7" cy="539.7" r="0.95"/><circle cx="209.5" cy="528.0" r="0.95"/><circle cx="235.3" cy="540.5" r="0.95"/><circle cx="211.2" cy="523.7" r="0.95"/><circle cx="204.3" cy="519.2" r="0.95"/><circle cx="217.3" cy="527.4" r="0.95"/><circle cx="220.6" cy="532.8" r="0.95"/><circle cx="223.2" cy="533.0" r="0.95"/><circle cx="210.3" cy="520.6" r="0.95"/><circle cx="204.2" cy="528.7" r="0.95"/><circle cx="229.0" cy="537.4" r="0.95"/><circle cx="211.3" cy="525.1" r="0.95"/><circle cx="207.9" cy="518.3" r="0.95"/><circle cx="237.5" cy="545.6" r="0.95"/><circle cx="218.1" cy="525.0" r="0.95"/><circle cx="215.2" cy="519.6" r="0.95"/><circle cx="219.5" cy="531.7" r="0.95"/><circle cx="221.6" cy="529.0" r="0.95"/><circle cx="214.3" cy="524.0" r="0.95"/><circle cx="230.0" cy="536.5" r="0.95"/><circle cx="219.7" cy="525.0" r="0.95"/><circle cx="226.3" cy="533.5" r="0.95"/><circle cx="236.2" cy="544.3" r="0.95"/><circle cx="229.8" cy="538.5" r="0.95"/><circle cx="223.5" cy="533.5" r="0.95"/><circle cx="217.3" cy="524.1" r="0.95"/><circle cx="230.1" cy="534.3" r="0.95"/><circle cx="209.7" cy="525.7" r="0.95"/><circle cx="209.2" cy="524.3" r="0.95"/><circle cx="219.5" cy="532.2" r="0.95"/><circle cx="223.1" cy="529.3" r="0.95"/><circle cx="222.2" cy="526.8" r="0.95"/><circle cx="207.7" cy="529.3" r="0.95"/><circle cx="201.7" cy="529.1" r="0.95"/><circle cx="217.1" cy="528.3" r="0.95"/><circle cx="210.7" cy="520.8" r="0.95"/><circle cx="203.7" cy="521.0" r="0.95"/><circle cx="222.0" cy="530.3" r="0.95"/><circle cx="230.3" cy="538.6" r="0.95"/><circle cx="206.4" cy="528.0" r="0.95"/><circle cx="202.6" cy="529.2" r="0.95"/><circle cx="224.0" cy="531.7" r="0.95"/><circle cx="162.8" cy="386.5" r="0.95"/><circle cx="171.3" cy="422.9" r="0.95"/><circle cx="168.6" cy="428.8" r="0.95"/><circle cx="170.7" cy="437.3" r="0.95"/><circle cx="189.7" cy="448.7" r="0.95"/><circle cx="178.0" cy="484.2" r="0.95"/><circle cx="184.0" cy="485.3" r="0.95"/><circle cx="208.0" cy="508.5" r="0.95"/><circle cx="216.3" cy="512.0" r="0.95"/><circle cx="236.5" cy="525.8" r="0.95"/><circle cx="238.8" cy="544.2" r="0.95"/><circle cx="222.0" cy="532.7" r="0.95"/><circle cx="169.0" cy="498.5" r="0.95"/><circle cx="174.0" cy="504.0" r="0.95"/><circle cx="178.8" cy="496.5" r="0.95"/><circle cx="177.9" cy="487.0" r="0.95"/></g>
<line x1="154" y1="332.2" x2="154" y2="559" stroke="#a4a4a4" stroke-width="1.6"/>
<line x1="239.3" y1="332.2" x2="239.3" y2="559" stroke="#a4a4a4" stroke-width="1.6"/>
<line x1="35" y1="535.4" x2="251.5" y2="535.4" stroke="#a6a6a6" stroke-width="1.3"/>
<line x1="35" y1="332.2" x2="35" y2="560" stroke="#404040" stroke-width="2"/>
<line x1="34" y1="559" x2="251.5" y2="559" stroke="#404040" stroke-width="2"/>
<line x1="32" y1="548.5" x2="35" y2="548.5" stroke="#404040" stroke-width="0.9"/>
<text x="29.4" y="551" font-size="7" fill="#333" text-anchor="end" font-weight="normal" textLength="3.7" lengthAdjust="spacingAndGlyphs">0</text>
<line x1="32" y1="497.45" x2="35" y2="497.45" stroke="#404040" stroke-width="0.9"/>
<text x="29.4" y="499.95" font-size="7" fill="#333" text-anchor="end" font-weight="normal" textLength="3.7" lengthAdjust="spacingAndGlyphs">5</text>
<line x1="32" y1="446.4" x2="35" y2="446.4" stroke="#404040" stroke-width="0.9"/>
<text x="29.4" y="448.9" font-size="7" fill="#333" text-anchor="end" font-weight="normal" textLength="7.4" lengthAdjust="spacingAndGlyphs">10</text>
<line x1="32" y1="395.35" x2="35" y2="395.35" stroke="#404040" stroke-width="0.9"/>
<text x="29.4" y="397.85" font-size="7" fill="#333" text-anchor="end" font-weight="normal" textLength="7.4" lengthAdjust="spacingAndGlyphs">15</text>
<line x1="32" y1="344.3" x2="35" y2="344.3" stroke="#404040" stroke-width="0.9"/>
<text x="29.4" y="346.8" font-size="7" fill="#333" text-anchor="end" font-weight="normal" textLength="7.4" lengthAdjust="spacingAndGlyphs">20</text>
<line x1="43.42" y1="559" x2="43.42" y2="562" stroke="#404040" stroke-width="0.9"/>
<text x="43.42" y="570.6" font-size="7" fill="#333" text-anchor="middle" font-weight="normal" textLength="7.0" lengthAdjust="spacingAndGlyphs">−9</text>
<line x1="94.48" y1="559" x2="94.48" y2="562" stroke="#404040" stroke-width="0.9"/>
<text x="94.48" y="570.6" font-size="7" fill="#333" text-anchor="middle" font-weight="normal" textLength="7.0" lengthAdjust="spacingAndGlyphs">−6</text>
<line x1="145.54" y1="559" x2="145.54" y2="562" stroke="#404040" stroke-width="0.9"/>
<text x="145.54" y="570.6" font-size="7" fill="#333" text-anchor="middle" font-weight="normal" textLength="7.0" lengthAdjust="spacingAndGlyphs">−3</text>
<line x1="196.6" y1="559" x2="196.6" y2="562" stroke="#404040" stroke-width="0.9"/>
<text x="196.6" y="570.6" font-size="7" fill="#333" text-anchor="middle" font-weight="normal" textLength="3.7" lengthAdjust="spacingAndGlyphs">0</text>
<line x1="247.66" y1="559" x2="247.66" y2="562" stroke="#404040" stroke-width="0.9"/>
<text x="247.66" y="570.6" font-size="7" fill="#333" text-anchor="middle" font-weight="normal" textLength="3.7" lengthAdjust="spacingAndGlyphs">3</text>
<text x="115.7" y="582.3" font-size="8.4" fill="#333" textLength="52.8" lengthAdjust="spacingAndGlyphs">log<tspan font-size="5.4" dy="1.9">2</tspan><tspan dy="-1.9"> fold changes</tspan></text>
<text transform="translate(14.4,446.5) rotate(-90)" x="0" y="0" font-size="8.4" fill="#333" text-anchor="middle" textLength="22.5" lengthAdjust="spacingAndGlyphs">log<tspan font-size="5.2" dy="1.7">10</tspan><tspan dy="-1.7" font-style="italic"> P</tspan></text>
<text x="267.5" y="16.8" font-size="11.8" fill="#111" text-anchor="start" font-weight="bold" textLength="9" lengthAdjust="spacingAndGlyphs" stroke="#111" stroke-width="0.25">G</text>
<text x="406.2" y="28.8" font-size="8.6" fill="#2a2a2a" text-anchor="middle" font-weight="normal" textLength="78.5" lengthAdjust="spacingAndGlyphs">HL5B–NAPc2 vs IgG</text>
<line x1="323.95" y1="33.7" x2="323.95" y2="261" stroke="#f4f4f4" stroke-width="0.7"/>
<line x1="361.2" y1="33.7" x2="361.2" y2="261" stroke="#f4f4f4" stroke-width="0.7"/>
<line x1="398.45" y1="33.7" x2="398.45" y2="261" stroke="#f4f4f4" stroke-width="0.7"/>
<line x1="435.7" y1="33.7" x2="435.7" y2="261" stroke="#f4f4f4" stroke-width="0.7"/>
<line x1="472.95" y1="33.7" x2="472.95" y2="261" stroke="#f4f4f4" stroke-width="0.7"/>
<line x1="510.2" y1="33.7" x2="510.2" y2="261" stroke="#f4f4f4" stroke-width="0.7"/>
<line x1="299" y1="250.2" x2="512.5" y2="250.2" stroke="#f4f4f4" stroke-width="0.7"/>
<line x1="299" y1="224.26" x2="512.5" y2="224.26" stroke="#f4f4f4" stroke-width="0.7"/>
<line x1="299" y1="198.32" x2="512.5" y2="198.32" stroke="#f4f4f4" stroke-width="0.7"/>
<line x1="299" y1="172.39" x2="512.5" y2="172.39" stroke="#f4f4f4" stroke-width="0.7"/>
<line x1="299" y1="146.45" x2="512.5" y2="146.45" stroke="#f4f4f4" stroke-width="0.7"/>
<line x1="299" y1="120.51" x2="512.5" y2="120.51" stroke="#f4f4f4" stroke-width="0.7"/>
<line x1="299" y1="94.57" x2="512.5" y2="94.57" stroke="#f4f4f4" stroke-width="0.7"/>
<line x1="299" y1="68.64" x2="512.5" y2="68.64" stroke="#f4f4f4" stroke-width="0.7"/>
<line x1="299" y1="42.7" x2="512.5" y2="42.7" stroke="#f4f4f4" stroke-width="0.7"/>
<path d="M330.0,250.9 L330.0,248.6 L331.0,248.6 L336.0,247.6 L340.0,246.6 L345.0,245.6 L350.0,245.2 L355.0,245.6 L358.0,247.0 L361.0,249.0 L364.0,247.8 L368.0,246.6 L375.0,245.3 L382.0,243.8 L390.0,242.3 L397.5,240.5 L397.5,240.5 L397.5,250.9 Z" fill="#aaaaaa"/>
<g fill="#aaaaaa"><circle cx="337.9" cy="245.3" r="0.95"/><circle cx="332.7" cy="245.9" r="0.95"/><circle cx="335.1" cy="247.3" r="0.95"/><circle cx="334.8" cy="245.8" r="0.95"/><circle cx="354.9" cy="242.7" r="0.95"/><circle cx="331.8" cy="247.7" r="0.95"/><circle cx="340.9" cy="245.9" r="0.95"/><circle cx="359.1" cy="248.1" r="0.95"/><circle cx="344.7" cy="242.7" r="0.95"/><circle cx="359.6" cy="248.4" r="0.95"/><circle cx="343.7" cy="243.0" r="0.95"/><circle cx="331.2" cy="248.3" r="0.95"/><circle cx="356.7" cy="246.2" r="0.95"/><circle cx="341.8" cy="245.5" r="0.95"/><circle cx="342.7" cy="245.9" r="0.95"/><circle cx="331.0" cy="245.7" r="0.95"/><circle cx="352.9" cy="242.7" r="0.95"/><circle cx="336.9" cy="246.8" r="0.95"/><circle cx="346.6" cy="244.8" r="0.95"/><circle cx="343.8" cy="241.9" r="0.95"/><circle cx="340.9" cy="245.5" r="0.95"/><circle cx="359.4" cy="247.4" r="0.95"/><circle cx="331.2" cy="247.8" r="0.95"/><circle cx="349.5" cy="245.2" r="0.95"/><circle cx="340.3" cy="244.2" r="0.95"/><circle cx="355.9" cy="244.4" r="0.95"/><circle cx="356.6" cy="245.3" r="0.95"/><circle cx="341.8" cy="243.0" r="0.95"/><circle cx="375.7" cy="228.3" r="0.95"/><circle cx="369.8" cy="244.6" r="0.95"/><circle cx="368.6" cy="242.4" r="0.95"/><circle cx="367.9" cy="246.5" r="0.95"/><circle cx="369.7" cy="242.9" r="0.95"/><circle cx="373.1" cy="241.1" r="0.95"/><circle cx="397.8" cy="228.6" r="0.95"/><circle cx="393.1" cy="240.8" r="0.95"/><circle cx="375.8" cy="245.2" r="0.95"/><circle cx="386.9" cy="240.0" r="0.95"/><circle cx="371.9" cy="246.2" r="0.95"/><circle cx="368.6" cy="245.9" r="0.95"/><circle cx="376.1" cy="221.0" r="0.95"/><circle cx="387.7" cy="241.3" r="0.95"/><circle cx="375.0" cy="244.9" r="0.95"/><circle cx="395.7" cy="238.0" r="0.95"/><circle cx="389.6" cy="230.1" r="0.95"/><circle cx="394.7" cy="241.6" r="0.95"/><circle cx="373.6" cy="242.1" r="0.95"/><circle cx="365.0" cy="241.8" r="0.95"/><circle cx="373.7" cy="230.9" r="0.95"/><circle cx="380.7" cy="244.2" r="0.95"/><circle cx="376.2" cy="243.6" r="0.95"/><circle cx="363.5" cy="248.4" r="0.95"/><circle cx="383.4" cy="243.7" r="0.95"/><circle cx="373.2" cy="241.5" r="0.95"/><circle cx="381.6" cy="243.6" r="0.95"/><circle cx="387.4" cy="241.4" r="0.95"/><circle cx="388.1" cy="232.7" r="0.95"/><circle cx="367.3" cy="246.7" r="0.95"/><circle cx="372.1" cy="235.0" r="0.95"/><circle cx="376.6" cy="240.8" r="0.95"/><circle cx="393.2" cy="240.6" r="0.95"/><circle cx="372.5" cy="243.3" r="0.95"/><circle cx="369.8" cy="246.6" r="0.95"/><circle cx="362.9" cy="246.9" r="0.95"/><circle cx="382.4" cy="226.6" r="0.95"/><circle cx="397.1" cy="238.8" r="0.95"/><circle cx="386.1" cy="223.0" r="0.95"/><circle cx="369.8" cy="238.5" r="0.95"/><circle cx="386.0" cy="221.3" r="0.95"/><circle cx="393.3" cy="240.5" r="0.95"/><circle cx="384.8" cy="243.3" r="0.95"/><circle cx="377.4" cy="240.4" r="0.95"/><circle cx="364.2" cy="247.3" r="0.95"/><circle cx="373.8" cy="239.5" r="0.95"/><circle cx="372.1" cy="245.6" r="0.95"/><circle cx="376.5" cy="238.7" r="0.95"/><circle cx="368.0" cy="241.0" r="0.95"/><circle cx="370.6" cy="246.3" r="0.95"/><circle cx="374.3" cy="241.0" r="0.95"/><circle cx="367.4" cy="243.0" r="0.95"/><circle cx="387.2" cy="235.9" r="0.95"/><circle cx="387.2" cy="243.0" r="0.95"/><circle cx="376.1" cy="241.5" r="0.95"/><circle cx="364.3" cy="247.1" r="0.95"/><circle cx="364.0" cy="246.8" r="0.95"/><circle cx="383.1" cy="238.1" r="0.95"/><circle cx="373.7" cy="244.2" r="0.95"/><circle cx="362.8" cy="248.2" r="0.95"/><circle cx="394.1" cy="233.4" r="0.95"/><circle cx="371.4" cy="237.1" r="0.95"/><circle cx="368.7" cy="243.6" r="0.95"/><circle cx="384.1" cy="220.7" r="0.95"/><circle cx="375.1" cy="236.5" r="0.95"/><circle cx="395.9" cy="225.6" r="0.95"/><circle cx="384.6" cy="233.9" r="0.95"/><circle cx="376.8" cy="240.1" r="0.95"/><circle cx="371.9" cy="231.3" r="0.95"/><circle cx="393.7" cy="238.0" r="0.95"/><circle cx="394.7" cy="241.6" r="0.95"/><circle cx="366.9" cy="244.4" r="0.95"/><circle cx="373.1" cy="242.8" r="0.95"/><circle cx="397.2" cy="240.6" r="0.95"/><circle cx="368.9" cy="246.0" r="0.95"/><circle cx="386.5" cy="241.9" r="0.95"/><circle cx="362.0" cy="248.1" r="0.95"/><circle cx="376.2" cy="243.6" r="0.95"/><circle cx="379.8" cy="232.2" r="0.95"/><circle cx="381.7" cy="233.5" r="0.95"/><circle cx="382.2" cy="225.6" r="0.95"/><circle cx="396.9" cy="238.2" r="0.95"/><circle cx="374.5" cy="224.9" r="0.95"/><circle cx="373.3" cy="233.4" r="0.95"/><circle cx="387.0" cy="232.0" r="0.95"/><circle cx="396.7" cy="223.1" r="0.95"/><circle cx="367.7" cy="242.1" r="0.95"/><circle cx="379.7" cy="235.2" r="0.95"/><circle cx="375.3" cy="243.2" r="0.95"/><circle cx="389.0" cy="236.0" r="0.95"/><circle cx="370.5" cy="245.3" r="0.95"/><circle cx="373.7" cy="245.0" r="0.95"/><circle cx="380.5" cy="243.9" r="0.95"/><circle cx="364.3" cy="248.2" r="0.95"/><circle cx="365.7" cy="243.2" r="0.95"/><circle cx="366.1" cy="245.7" r="0.95"/><circle cx="389.8" cy="237.0" r="0.95"/><circle cx="367.9" cy="237.1" r="0.95"/><circle cx="393.3" cy="241.8" r="0.95"/><circle cx="371.1" cy="241.2" r="0.95"/><circle cx="390.7" cy="238.6" r="0.95"/><circle cx="387.8" cy="241.5" r="0.95"/><circle cx="387.8" cy="240.5" r="0.95"/><circle cx="374.0" cy="230.9" r="0.95"/><circle cx="392.3" cy="224.5" r="0.95"/><circle cx="382.4" cy="239.3" r="0.95"/><circle cx="387.4" cy="234.0" r="0.95"/><circle cx="391.9" cy="225.9" r="0.95"/><circle cx="366.5" cy="246.0" r="0.95"/><circle cx="386.1" cy="242.0" r="0.95"/><circle cx="368.6" cy="246.9" r="0.95"/><circle cx="383.1" cy="221.0" r="0.95"/><circle cx="396.9" cy="240.7" r="0.95"/><circle cx="386.8" cy="239.0" r="0.95"/><circle cx="384.7" cy="239.6" r="0.95"/><circle cx="395.6" cy="215.5" r="0.95"/><circle cx="363.8" cy="245.4" r="0.95"/><circle cx="366.3" cy="247.6" r="0.95"/><circle cx="372.3" cy="234.2" r="0.95"/><circle cx="397.8" cy="240.7" r="0.95"/><circle cx="373.9" cy="245.7" r="0.95"/><circle cx="381.5" cy="237.7" r="0.95"/><circle cx="375.4" cy="242.8" r="0.95"/><circle cx="390.8" cy="225.0" r="0.95"/><circle cx="372.2" cy="242.7" r="0.95"/><circle cx="384.2" cy="228.9" r="0.95"/><circle cx="397.3" cy="237.1" r="0.95"/><circle cx="387.0" cy="236.1" r="0.95"/><circle cx="390.8" cy="241.8" r="0.95"/><circle cx="368.3" cy="246.8" r="0.95"/><circle cx="395.6" cy="239.8" r="0.95"/><circle cx="379.6" cy="244.1" r="0.95"/><circle cx="373.7" cy="245.8" r="0.95"/><circle cx="382.4" cy="243.4" r="0.95"/><circle cx="384.5" cy="241.7" r="0.95"/><circle cx="370.2" cy="242.4" r="0.95"/><circle cx="375.2" cy="243.6" r="0.95"/><circle cx="363.8" cy="248.4" r="0.95"/><circle cx="394.1" cy="239.2" r="0.95"/><circle cx="364.8" cy="247.8" r="0.95"/><circle cx="379.4" cy="215.3" r="0.95"/><circle cx="369.3" cy="234.6" r="0.95"/><circle cx="379.4" cy="239.5" r="0.95"/><circle cx="391.1" cy="238.4" r="0.95"/><circle cx="364.1" cy="246.4" r="0.95"/><circle cx="385.6" cy="233.9" r="0.95"/><circle cx="372.0" cy="227.1" r="0.95"/><circle cx="393.1" cy="216.2" r="0.95"/><circle cx="378.0" cy="223.5" r="0.95"/><circle cx="388.1" cy="242.1" r="0.95"/><circle cx="363.0" cy="248.5" r="0.95"/><circle cx="366.3" cy="247.5" r="0.95"/><circle cx="374.9" cy="230.2" r="0.95"/><circle cx="373.2" cy="239.5" r="0.95"/><circle cx="362.4" cy="248.7" r="0.95"/><circle cx="396.5" cy="241.3" r="0.95"/><circle cx="381.0" cy="226.0" r="0.95"/><circle cx="390.5" cy="229.2" r="0.95"/><circle cx="376.4" cy="226.7" r="0.95"/><circle cx="391.8" cy="227.3" r="0.95"/><circle cx="397.5" cy="240.8" r="0.95"/><circle cx="396.2" cy="237.0" r="0.95"/><circle cx="387.4" cy="241.5" r="0.95"/><circle cx="394.7" cy="241.6" r="0.95"/><circle cx="382.8" cy="242.5" r="0.95"/><circle cx="376.0" cy="241.4" r="0.95"/><circle cx="385.7" cy="227.4" r="0.95"/><circle cx="375.1" cy="234.4" r="0.95"/><circle cx="374.7" cy="243.5" r="0.95"/><circle cx="394.6" cy="238.9" r="0.95"/><circle cx="365.4" cy="246.9" r="0.95"/><circle cx="388.7" cy="241.7" r="0.95"/><circle cx="388.8" cy="235.8" r="0.95"/><circle cx="386.5" cy="242.4" r="0.95"/><circle cx="365.8" cy="247.5" r="0.95"/><circle cx="374.6" cy="240.7" r="0.95"/><circle cx="362.3" cy="248.0" r="0.95"/><circle cx="376.5" cy="242.2" r="0.95"/><circle cx="381.3" cy="219.2" r="0.95"/><circle cx="369.4" cy="234.1" r="0.95"/><circle cx="375.8" cy="206.0" r="0.95"/><circle cx="371.0" cy="222.0" r="0.95"/><circle cx="382.5" cy="225.8" r="0.95"/><circle cx="387.3" cy="219.4" r="0.95"/><circle cx="391.2" cy="218.5" r="0.95"/><circle cx="351.5" cy="239.6" r="0.95"/><circle cx="347.7" cy="241.9" r="0.95"/><circle cx="334.6" cy="244.7" r="0.95"/></g>
<line x1="324" y1="33.7" x2="324" y2="261" stroke="#b2b2b2" stroke-width="1.8"/>
<line x1="398" y1="33.7" x2="398" y2="261" stroke="#b2b2b2" stroke-width="1.8"/>
<line x1="299" y1="249.5" x2="512.5" y2="249.5" stroke="#a6a6a6" stroke-width="1.3"/>
<line x1="299" y1="33.7" x2="299" y2="262" stroke="#404040" stroke-width="2"/>
<line x1="298" y1="261" x2="512.5" y2="261" stroke="#404040" stroke-width="2"/>
<line x1="296" y1="250.2" x2="299" y2="250.2" stroke="#404040" stroke-width="0.9"/>
<text x="293.4" y="252.7" font-size="7" fill="#333" text-anchor="end" font-weight="normal" textLength="3.7" lengthAdjust="spacingAndGlyphs">0</text>
<line x1="296" y1="198.32" x2="299" y2="198.32" stroke="#404040" stroke-width="0.9"/>
<text x="293.4" y="200.82" font-size="7" fill="#333" text-anchor="end" font-weight="normal" textLength="7.4" lengthAdjust="spacingAndGlyphs">50</text>
<line x1="296" y1="146.45" x2="299" y2="146.45" stroke="#404040" stroke-width="0.9"/>
<text x="293.4" y="148.95" font-size="7" fill="#333" text-anchor="end" font-weight="normal" textLength="11.1" lengthAdjust="spacingAndGlyphs">100</text>
<line x1="296" y1="94.57" x2="299" y2="94.57" stroke="#404040" stroke-width="0.9"/>
<text x="293.4" y="97.07" font-size="7" fill="#333" text-anchor="end" font-weight="normal" textLength="11.1" lengthAdjust="spacingAndGlyphs">150</text>
<line x1="296" y1="42.7" x2="299" y2="42.7" stroke="#404040" stroke-width="0.9"/>
<text x="293.4" y="45.2" font-size="7" fill="#333" text-anchor="end" font-weight="normal" textLength="11.1" lengthAdjust="spacingAndGlyphs">200</text>
<line x1="361.2" y1="261" x2="361.2" y2="264" stroke="#404040" stroke-width="0.9"/>
<text x="361.2" y="271.3" font-size="7" fill="#333" text-anchor="middle" font-weight="normal" textLength="3.7" lengthAdjust="spacingAndGlyphs">0</text>
<line x1="435.7" y1="261" x2="435.7" y2="264" stroke="#404040" stroke-width="0.9"/>
<text x="435.7" y="271.3" font-size="7" fill="#333" text-anchor="middle" font-weight="normal" textLength="3.7" lengthAdjust="spacingAndGlyphs">5</text>
<line x1="510.2" y1="261" x2="510.2" y2="264" stroke="#404040" stroke-width="0.9"/>
<text x="510.2" y="271.3" font-size="7" fill="#333" text-anchor="middle" font-weight="normal" textLength="7.4" lengthAdjust="spacingAndGlyphs">10</text>
<text x="379.7" y="280.2" font-size="8.4" fill="#333" textLength="52.5" lengthAdjust="spacingAndGlyphs">log<tspan font-size="5.4" dy="1.9">2</tspan><tspan dy="-1.9"> fold changes</tspan></text>
<text transform="translate(274.4,147.5) rotate(-90)" x="0" y="0" font-size="8.4" fill="#333" text-anchor="middle" textLength="22.5" lengthAdjust="spacingAndGlyphs">log<tspan font-size="5.2" dy="1.7">10</tspan><tspan dy="-1.7" font-style="italic"> P</tspan></text>
<text x="267.5" y="315" font-size="11.8" fill="#111" text-anchor="start" font-weight="bold" textLength="8.7" lengthAdjust="spacingAndGlyphs" stroke="#111" stroke-width="0.25">H</text>
<text x="406.2" y="327" font-size="8.6" fill="#2a2a2a" text-anchor="middle" font-weight="normal" textLength="80" lengthAdjust="spacingAndGlyphs">HL7G–NAPc2 vs IgG</text>
<line x1="302.5" y1="332.5" x2="302.5" y2="559" stroke="#f4f4f4" stroke-width="0.7"/>
<line x1="337.5" y1="332.5" x2="337.5" y2="559" stroke="#f4f4f4" stroke-width="0.7"/>
<line x1="372.5" y1="332.5" x2="372.5" y2="559" stroke="#f4f4f4" stroke-width="0.7"/>
<line x1="407.5" y1="332.5" x2="407.5" y2="559" stroke="#f4f4f4" stroke-width="0.7"/>
<line x1="442.5" y1="332.5" x2="442.5" y2="559" stroke="#f4f4f4" stroke-width="0.7"/>
<line x1="477.5" y1="332.5" x2="477.5" y2="559" stroke="#f4f4f4" stroke-width="0.7"/>
<line x1="299" y1="548.4" x2="512.5" y2="548.4" stroke="#f4f4f4" stroke-width="0.7"/>
<line x1="299" y1="525.27" x2="512.5" y2="525.27" stroke="#f4f4f4" stroke-width="0.7"/>
<line x1="299" y1="502.15" x2="512.5" y2="502.15" stroke="#f4f4f4" stroke-width="0.7"/>
<line x1="299" y1="479.02" x2="512.5" y2="479.02" stroke="#f4f4f4" stroke-width="0.7"/>
<line x1="299" y1="455.9" x2="512.5" y2="455.9" stroke="#f4f4f4" stroke-width="0.7"/>
<line x1="299" y1="432.77" x2="512.5" y2="432.77" stroke="#f4f4f4" stroke-width="0.7"/>
<line x1="299" y1="409.65" x2="512.5" y2="409.65" stroke="#f4f4f4" stroke-width="0.7"/>
<line x1="299" y1="386.52" x2="512.5" y2="386.52" stroke="#f4f4f4" stroke-width="0.7"/>
<line x1="299" y1="363.4" x2="512.5" y2="363.4" stroke="#f4f4f4" stroke-width="0.7"/>
<line x1="299" y1="340.27" x2="512.5" y2="340.27" stroke="#f4f4f4" stroke-width="0.7"/>
<path d="M340.0,548.6 L340.0,547.0 L340.0,547.0 L345.0,546.2 L350.0,545.6 L356.0,544.6 L361.0,545.2 L366.0,546.0 L371.0,547.2 L374.0,546.0 L378.0,544.0 L383.0,541.5 L388.0,539.0 L394.0,537.0 L400.0,536.0 L406.5,536.5 L406.5,536.5 L406.5,548.6 Z" fill="#aaaaaa"/>
<g fill="#aaaaaa"><circle cx="350.3" cy="542.0" r="0.95"/><circle cx="343.5" cy="543.0" r="0.95"/><circle cx="353.8" cy="539.3" r="0.95"/><circle cx="347.0" cy="544.2" r="0.95"/><circle cx="362.6" cy="544.7" r="0.95"/><circle cx="348.7" cy="542.7" r="0.95"/><circle cx="370.3" cy="546.3" r="0.95"/><circle cx="345.9" cy="544.6" r="0.95"/><circle cx="371.7" cy="546.9" r="0.95"/><circle cx="360.3" cy="543.2" r="0.95"/><circle cx="360.6" cy="544.1" r="0.95"/><circle cx="359.7" cy="540.4" r="0.95"/><circle cx="367.4" cy="544.7" r="0.95"/><circle cx="356.2" cy="540.9" r="0.95"/><circle cx="343.7" cy="543.4" r="0.95"/><circle cx="362.1" cy="543.4" r="0.95"/><circle cx="361.3" cy="543.3" r="0.95"/><circle cx="352.3" cy="544.0" r="0.95"/><circle cx="359.2" cy="541.9" r="0.95"/><circle cx="356.5" cy="544.5" r="0.95"/><circle cx="360.1" cy="542.8" r="0.95"/><circle cx="359.0" cy="541.7" r="0.95"/><circle cx="369.8" cy="546.5" r="0.95"/><circle cx="355.0" cy="538.5" r="0.95"/><circle cx="363.6" cy="544.4" r="0.95"/><circle cx="363.6" cy="541.8" r="0.95"/><circle cx="352.9" cy="540.3" r="0.95"/><circle cx="344.1" cy="542.6" r="0.95"/><circle cx="389.7" cy="537.1" r="0.95"/><circle cx="401.6" cy="527.2" r="0.95"/><circle cx="404.9" cy="523.3" r="0.95"/><circle cx="400.1" cy="530.0" r="0.95"/><circle cx="406.8" cy="536.4" r="0.95"/><circle cx="402.6" cy="525.8" r="0.95"/><circle cx="381.5" cy="534.2" r="0.95"/><circle cx="388.4" cy="533.3" r="0.95"/><circle cx="402.4" cy="535.2" r="0.95"/><circle cx="382.5" cy="535.9" r="0.95"/><circle cx="375.5" cy="543.8" r="0.95"/><circle cx="399.8" cy="530.5" r="0.95"/><circle cx="381.2" cy="534.7" r="0.95"/><circle cx="402.1" cy="524.1" r="0.95"/><circle cx="391.7" cy="522.5" r="0.95"/><circle cx="400.1" cy="535.3" r="0.95"/><circle cx="385.4" cy="540.0" r="0.95"/><circle cx="374.3" cy="545.7" r="0.95"/><circle cx="402.4" cy="522.4" r="0.95"/><circle cx="377.0" cy="544.3" r="0.95"/><circle cx="386.2" cy="528.2" r="0.95"/><circle cx="394.0" cy="521.2" r="0.95"/><circle cx="375.4" cy="540.7" r="0.95"/><circle cx="380.0" cy="538.5" r="0.95"/><circle cx="402.8" cy="525.5" r="0.95"/><circle cx="379.7" cy="538.4" r="0.95"/><circle cx="387.6" cy="539.2" r="0.95"/><circle cx="384.5" cy="538.9" r="0.95"/><circle cx="394.4" cy="535.0" r="0.95"/><circle cx="393.5" cy="527.4" r="0.95"/><circle cx="379.1" cy="543.2" r="0.95"/><circle cx="396.6" cy="531.6" r="0.95"/><circle cx="377.4" cy="544.2" r="0.95"/><circle cx="405.0" cy="528.9" r="0.95"/><circle cx="385.2" cy="539.6" r="0.95"/><circle cx="406.8" cy="527.4" r="0.95"/><circle cx="398.0" cy="533.2" r="0.95"/><circle cx="383.5" cy="538.5" r="0.95"/><circle cx="378.0" cy="540.5" r="0.95"/><circle cx="387.4" cy="527.7" r="0.95"/><circle cx="386.9" cy="535.6" r="0.95"/><circle cx="390.2" cy="522.3" r="0.95"/><circle cx="384.8" cy="532.8" r="0.95"/><circle cx="381.0" cy="538.3" r="0.95"/><circle cx="382.7" cy="531.4" r="0.95"/><circle cx="382.7" cy="531.7" r="0.95"/><circle cx="396.0" cy="532.0" r="0.95"/><circle cx="404.7" cy="533.0" r="0.95"/><circle cx="398.3" cy="528.4" r="0.95"/><circle cx="388.2" cy="538.8" r="0.95"/><circle cx="387.2" cy="537.7" r="0.95"/><circle cx="388.0" cy="523.4" r="0.95"/><circle cx="383.0" cy="534.5" r="0.95"/><circle cx="395.9" cy="535.2" r="0.95"/><circle cx="387.0" cy="539.1" r="0.95"/><circle cx="403.4" cy="534.7" r="0.95"/><circle cx="387.3" cy="537.0" r="0.95"/><circle cx="400.9" cy="521.4" r="0.95"/><circle cx="393.1" cy="531.0" r="0.95"/><circle cx="376.4" cy="540.0" r="0.95"/><circle cx="376.0" cy="544.3" r="0.95"/><circle cx="385.7" cy="531.5" r="0.95"/><circle cx="395.8" cy="533.9" r="0.95"/><circle cx="403.5" cy="519.2" r="0.95"/><circle cx="373.8" cy="545.2" r="0.95"/><circle cx="389.0" cy="535.9" r="0.95"/><circle cx="388.8" cy="536.6" r="0.95"/><circle cx="395.8" cy="528.9" r="0.95"/><circle cx="406.0" cy="519.3" r="0.95"/><circle cx="406.7" cy="533.2" r="0.95"/><circle cx="401.2" cy="527.1" r="0.95"/><circle cx="396.8" cy="517.1" r="0.95"/><circle cx="375.3" cy="544.5" r="0.95"/><circle cx="386.6" cy="532.2" r="0.95"/><circle cx="380.4" cy="532.3" r="0.95"/><circle cx="380.1" cy="541.2" r="0.95"/><circle cx="377.9" cy="542.6" r="0.95"/><circle cx="398.2" cy="536.1" r="0.95"/><circle cx="378.7" cy="539.7" r="0.95"/><circle cx="394.2" cy="525.8" r="0.95"/><circle cx="381.6" cy="534.0" r="0.95"/><circle cx="397.8" cy="523.9" r="0.95"/><circle cx="377.1" cy="542.8" r="0.95"/><circle cx="373.5" cy="544.7" r="0.95"/><circle cx="405.1" cy="521.5" r="0.95"/><circle cx="373.8" cy="546.1" r="0.95"/><circle cx="391.2" cy="532.1" r="0.95"/><circle cx="376.8" cy="540.5" r="0.95"/><circle cx="383.3" cy="537.3" r="0.95"/><circle cx="377.2" cy="541.9" r="0.95"/><circle cx="377.4" cy="544.3" r="0.95"/><circle cx="390.4" cy="536.2" r="0.95"/><circle cx="399.4" cy="534.5" r="0.95"/><circle cx="387.1" cy="539.4" r="0.95"/><circle cx="380.4" cy="540.3" r="0.95"/><circle cx="392.0" cy="533.2" r="0.95"/><circle cx="401.9" cy="535.8" r="0.95"/><circle cx="401.9" cy="535.5" r="0.95"/><circle cx="406.0" cy="530.8" r="0.95"/><circle cx="386.8" cy="532.9" r="0.95"/><circle cx="402.4" cy="518.2" r="0.95"/><circle cx="387.1" cy="539.5" r="0.95"/><circle cx="378.2" cy="538.1" r="0.95"/><circle cx="398.0" cy="525.7" r="0.95"/><circle cx="378.3" cy="541.2" r="0.95"/><circle cx="374.0" cy="546.4" r="0.95"/><circle cx="383.2" cy="528.5" r="0.95"/><circle cx="394.9" cy="522.6" r="0.95"/><circle cx="374.6" cy="545.3" r="0.95"/><circle cx="375.7" cy="544.9" r="0.95"/><circle cx="376.8" cy="539.1" r="0.95"/><circle cx="384.2" cy="537.0" r="0.95"/><circle cx="395.2" cy="521.3" r="0.95"/><circle cx="405.2" cy="529.8" r="0.95"/><circle cx="390.0" cy="523.6" r="0.95"/><circle cx="386.4" cy="538.0" r="0.95"/><circle cx="398.1" cy="534.6" r="0.95"/><circle cx="385.5" cy="536.9" r="0.95"/><circle cx="389.2" cy="535.8" r="0.95"/><circle cx="387.6" cy="535.2" r="0.95"/><circle cx="374.7" cy="543.1" r="0.95"/><circle cx="375.1" cy="544.3" r="0.95"/><circle cx="391.6" cy="534.3" r="0.95"/><circle cx="380.6" cy="542.5" r="0.95"/><circle cx="385.6" cy="538.3" r="0.95"/><circle cx="389.5" cy="537.3" r="0.95"/><circle cx="398.5" cy="530.8" r="0.95"/><circle cx="373.3" cy="546.3" r="0.95"/><circle cx="405.9" cy="536.4" r="0.95"/><circle cx="393.2" cy="519.9" r="0.95"/><circle cx="385.4" cy="534.3" r="0.95"/><circle cx="385.5" cy="538.5" r="0.95"/><circle cx="393.7" cy="529.8" r="0.95"/><circle cx="383.7" cy="537.2" r="0.95"/><circle cx="390.6" cy="527.4" r="0.95"/><circle cx="374.8" cy="545.9" r="0.95"/><circle cx="381.6" cy="541.1" r="0.95"/><circle cx="400.1" cy="531.7" r="0.95"/><circle cx="402.2" cy="532.4" r="0.95"/><circle cx="382.7" cy="535.1" r="0.95"/><circle cx="375.9" cy="539.9" r="0.95"/><circle cx="401.3" cy="533.5" r="0.95"/><circle cx="383.8" cy="531.3" r="0.95"/><circle cx="399.8" cy="527.0" r="0.95"/><circle cx="374.9" cy="543.2" r="0.95"/><circle cx="374.6" cy="544.3" r="0.95"/><circle cx="391.8" cy="521.8" r="0.95"/><circle cx="394.7" cy="536.9" r="0.95"/><circle cx="404.8" cy="525.4" r="0.95"/><circle cx="392.7" cy="537.4" r="0.95"/><circle cx="398.1" cy="532.2" r="0.95"/><circle cx="396.1" cy="517.9" r="0.95"/><circle cx="404.2" cy="536.1" r="0.95"/><circle cx="399.6" cy="531.5" r="0.95"/><circle cx="398.6" cy="532.8" r="0.95"/><circle cx="388.2" cy="535.1" r="0.95"/><circle cx="377.0" cy="543.7" r="0.95"/><circle cx="398.0" cy="536.2" r="0.95"/><circle cx="376.9" cy="539.8" r="0.95"/><circle cx="395.7" cy="530.2" r="0.95"/><circle cx="344.4" cy="543.0" r="0.95"/><circle cx="379.0" cy="537.0" r="0.95"/><circle cx="385.8" cy="518.5" r="0.95"/><circle cx="396.3" cy="509.2" r="0.95"/><circle cx="389.6" cy="531.5" r="0.95"/><circle cx="308.0" cy="547.8" r="0.95"/><circle cx="392.0" cy="512.0" r="0.95"/><circle cx="398.0" cy="514.0" r="0.95"/><circle cx="344.5" cy="543.4" r="0.95"/><circle cx="355.0" cy="539.0" r="0.95"/></g>
<line x1="337.5" y1="332.5" x2="337.5" y2="559" stroke="#a8a8a8" stroke-width="1.4"/>
<line x1="406.9" y1="332.5" x2="406.9" y2="559" stroke="#a8a8a8" stroke-width="1.4"/>
<line x1="299" y1="547.4" x2="512.5" y2="547.4" stroke="#a6a6a6" stroke-width="1.3"/>
<line x1="299" y1="332.5" x2="299" y2="560" stroke="#404040" stroke-width="2"/>
<line x1="298" y1="559" x2="512.5" y2="559" stroke="#404040" stroke-width="2"/>
<line x1="296" y1="548.4" x2="299" y2="548.4" stroke="#404040" stroke-width="0.9"/>
<text x="293.4" y="550.9" font-size="7" fill="#333" text-anchor="end" font-weight="normal" textLength="3.7" lengthAdjust="spacingAndGlyphs">0</text>
<line x1="296" y1="502.15" x2="299" y2="502.15" stroke="#404040" stroke-width="0.9"/>
<text x="293.4" y="504.65" font-size="7" fill="#333" text-anchor="end" font-weight="normal" textLength="7.4" lengthAdjust="spacingAndGlyphs">50</text>
<line x1="296" y1="455.9" x2="299" y2="455.9" stroke="#404040" stroke-width="0.9"/>
<text x="293.4" y="458.4" font-size="7" fill="#333" text-anchor="end" font-weight="normal" textLength="11.1" lengthAdjust="spacingAndGlyphs">100</text>
<line x1="296" y1="409.65" x2="299" y2="409.65" stroke="#404040" stroke-width="0.9"/>
<text x="293.4" y="412.15" font-size="7" fill="#333" text-anchor="end" font-weight="normal" textLength="11.1" lengthAdjust="spacingAndGlyphs">150</text>
<line x1="296" y1="363.4" x2="299" y2="363.4" stroke="#404040" stroke-width="0.9"/>
<text x="293.4" y="365.9" font-size="7" fill="#333" text-anchor="end" font-weight="normal" textLength="11.1" lengthAdjust="spacingAndGlyphs">200</text>
<line x1="302.5" y1="559" x2="302.5" y2="562" stroke="#404040" stroke-width="0.9"/>
<text x="302.5" y="570.4" font-size="7" fill="#333" text-anchor="middle" font-weight="normal" textLength="7.0" lengthAdjust="spacingAndGlyphs">−5</text>
<line x1="372.5" y1="559" x2="372.5" y2="562" stroke="#404040" stroke-width="0.9"/>
<text x="372.5" y="570.4" font-size="7" fill="#333" text-anchor="middle" font-weight="normal" textLength="3.7" lengthAdjust="spacingAndGlyphs">0</text>
<line x1="442.5" y1="559" x2="442.5" y2="562" stroke="#404040" stroke-width="0.9"/>
<text x="442.5" y="570.4" font-size="7" fill="#333" text-anchor="middle" font-weight="normal" textLength="3.7" lengthAdjust="spacingAndGlyphs">5</text>
<text x="379.7" y="582.6" font-size="8.4" fill="#333" textLength="52.5" lengthAdjust="spacingAndGlyphs">log<tspan font-size="5.4" dy="1.9">2</tspan><tspan dy="-1.9"> fold changes</tspan></text>
<text transform="translate(274.4,446.5) rotate(-90)" x="0" y="0" font-size="8.4" fill="#333" text-anchor="middle" textLength="22.5" lengthAdjust="spacingAndGlyphs">log<tspan font-size="5.2" dy="1.7">10</tspan><tspan dy="-1.7" font-style="italic"> P</tspan></text>
<g stroke="#3a2a55" stroke-width="0.55"><line x1="94.4" y1="151.5" x2="119.2" y2="166.2"/><line x1="96.2" y1="159.7" x2="118.6" y2="166.2"/><line x1="109.5" y1="140.9" x2="117.5" y2="138.5"/><line x1="127.4" y1="179.2" x2="137.5" y2="175.5"/><line x1="125.6" y1="186.8" x2="131" y2="184"/><line x1="82.7" y1="167.3" x2="96.5" y2="173.6"/><line x1="61" y1="184" x2="69.4" y2="180.2"/><line x1="86.1" y1="189.8" x2="90.7" y2="191.5"/><line x1="66" y1="216" x2="78.3" y2="203.8"/><line x1="125.4" y1="187.5" x2="145.6" y2="189.5"/><line x1="121.9" y1="192.7" x2="150" y2="197.5"/><line x1="122.5" y1="201.3" x2="129.4" y2="207"/></g>
<g fill="#2a1848"><circle cx="92.8" cy="44.6" r="1.15"/><circle cx="111.7" cy="60.8" r="1.15"/><circle cx="90.5" cy="82" r="1.15"/><circle cx="95" cy="84.5" r="1.15"/><circle cx="85" cy="91" r="1.15"/><circle cx="83.5" cy="121" r="1.15"/><circle cx="110.5" cy="121" r="1.15"/><circle cx="70.5" cy="123.5" r="1.15"/><circle cx="114.4" cy="136.8" r="1.15"/><circle cx="106" cy="140.9" r="1.15"/><circle cx="109.5" cy="140.9" r="1.15"/><circle cx="113.3" cy="153.5" r="1.15"/><circle cx="118.6" cy="157" r="1.15"/><circle cx="106.8" cy="159.4" r="1.15"/><circle cx="108.6" cy="159.4" r="1.15"/><circle cx="113.3" cy="162.1" r="1.15"/><circle cx="114.2" cy="163.3" r="1.15"/><circle cx="118.6" cy="165.6" r="1.15"/><circle cx="119.7" cy="166.8" r="1.15"/><circle cx="122.5" cy="165.6" r="1.15"/><circle cx="108.3" cy="166.8" r="1.15"/><circle cx="96.8" cy="173.3" r="1.15"/><circle cx="121.5" cy="176.8" r="1.15"/><circle cx="120.9" cy="178.6" r="1.15"/><circle cx="98" cy="178.6" r="1.15"/><circle cx="102.7" cy="179.2" r="1.15"/><circle cx="127.4" cy="179.2" r="1.15"/><circle cx="125" cy="182.7" r="1.15"/><circle cx="93.5" cy="184.5" r="1.15"/><circle cx="99.4" cy="185.3" r="1.15"/><circle cx="125.6" cy="186.8" r="1.15"/><circle cx="108.6" cy="187.4" r="1.15"/><circle cx="120.1" cy="189.2" r="1.15"/><circle cx="87.4" cy="190.4" r="1.15"/><circle cx="93.2" cy="188" r="1.15"/><circle cx="122.7" cy="192.7" r="1.15"/><circle cx="80.1" cy="177.5" r="1.15"/><circle cx="69.4" cy="180.2" r="1.15"/><circle cx="64.2" cy="187.5" r="1.15"/><circle cx="92.8" cy="187.5" r="1.15"/><circle cx="98.2" cy="178.8" r="1.15"/><circle cx="87.3" cy="190.4" r="1.15"/><circle cx="63.8" cy="187.9" r="1.15"/><circle cx="45" cy="200" r="1.15"/><circle cx="92.7" cy="187.3" r="1.15"/><circle cx="107.7" cy="187.3" r="1.15"/><circle cx="113.8" cy="198.5" r="1.15"/><circle cx="109" cy="201.9" r="1.15"/><circle cx="119.6" cy="188.8" r="1.15"/><circle cx="123.5" cy="201.9" r="1.15"/><circle cx="78.3" cy="203.8" r="1.15"/><circle cx="85.4" cy="201.9" r="1.15"/><circle cx="81.5" cy="214.2" r="1.15"/><circle cx="96.5" cy="213.5" r="1.15"/><circle cx="90.8" cy="218" r="1.15"/><circle cx="89.8" cy="222.5" r="1.15"/><circle cx="80.2" cy="223.1" r="1.15"/><circle cx="80.8" cy="225.8" r="1.15"/><circle cx="98.5" cy="221.2" r="1.15"/><circle cx="100.4" cy="221.5" r="1.15"/><circle cx="106.5" cy="215.8" r="1.15"/><circle cx="108.1" cy="219.6" r="1.15"/><circle cx="105.8" cy="220" r="1.15"/><circle cx="113.5" cy="220" r="1.15"/><circle cx="118.1" cy="216.7" r="1.15"/><circle cx="120.6" cy="220.6" r="1.15"/><circle cx="119.6" cy="211.9" r="1.15"/><circle cx="103.3" cy="226.3" r="1.15"/><circle cx="111.9" cy="225" r="1.15"/><circle cx="123.8" cy="225.4" r="1.15"/><circle cx="118.7" cy="234.6" r="1.15"/><circle cx="125" cy="235.4" r="1.15"/><circle cx="115.8" cy="237.3" r="1.15"/><circle cx="89.8" cy="238.8" r="1.15"/><circle cx="101.3" cy="239.8" r="1.15"/><circle cx="105.2" cy="207.1" r="1.15"/><circle cx="119.6" cy="208.1" r="1.15"/><circle cx="126.5" cy="212.3" r="1.15"/><circle cx="103.6" cy="226.7" r="1.15"/><circle cx="111.9" cy="225.6" r="1.15"/><circle cx="125.2" cy="226.4" r="1.15"/><circle cx="118.3" cy="233.7" r="1.15"/><circle cx="124.6" cy="233.7" r="1.15"/><circle cx="125.8" cy="236" r="1.15"/><circle cx="127.8" cy="236.5" r="1.15"/><circle cx="116" cy="237.7" r="1.15"/><circle cx="100.6" cy="239.8" r="1.15"/><circle cx="123.2" cy="239.1" r="1.15"/><circle cx="125.4" cy="187.5" r="1.15"/><circle cx="121.9" cy="192.7" r="1.15"/><circle cx="117.3" cy="195.6" r="1.15"/><circle cx="127.1" cy="201.3" r="1.15"/><circle cx="121.3" cy="201.3" r="1.15"/><circle cx="117.3" cy="211.1" r="1.15"/><circle cx="119.6" cy="216.9" r="1.15"/></g>
<text x="90.2" y="43.1" font-size="5.8" fill="#4f3a76" stroke="#4f3a76" stroke-width="0.16" textLength="14.1" lengthAdjust="spacingAndGlyphs">TNIP3</text>
<text x="107.8" y="59.3" font-size="5.8" fill="#4f3a76" stroke="#4f3a76" stroke-width="0.16" textLength="16.4" lengthAdjust="spacingAndGlyphs">PTGS2</text>
<text x="76" y="79.8" font-size="5.8" fill="#4f3a76" stroke="#4f3a76" stroke-width="0.16" textLength="19.5" lengthAdjust="spacingAndGlyphs">CXCL11</text>
<text x="95.5" y="91.8" font-size="5.8" fill="#ea7038" stroke="#ea7038" stroke-width="0.16" textLength="9.5" lengthAdjust="spacingAndGlyphs">TNF</text>
<text x="74.5" y="99.3" font-size="5.8" fill="#4f3a76" stroke="#4f3a76" stroke-width="0.16" textLength="13.5" lengthAdjust="spacingAndGlyphs">AQP9</text>
<text x="82" y="118.8" font-size="5.8" fill="#ea7038" stroke="#ea7038" stroke-width="0.16" textLength="11" lengthAdjust="spacingAndGlyphs">IL1B</text>
<text x="89.5" y="128.3" font-size="5.8" fill="#4f3a76" stroke="#4f3a76" stroke-width="0.16" textLength="23" lengthAdjust="spacingAndGlyphs">ZC3H12A</text>
<text x="40" y="129.8" font-size="5.8" fill="#4f3a76" stroke="#4f3a76" stroke-width="0.16" textLength="29" lengthAdjust="spacingAndGlyphs">MIR3142HG</text>
<text x="67" y="137.8" font-size="5.8" fill="#4f3a76" stroke="#4f3a76" stroke-width="0.16" textLength="20" lengthAdjust="spacingAndGlyphs">SLAMF7</text>
<text x="93" y="136.8" font-size="5.8" fill="#4f3a76" stroke="#4f3a76" stroke-width="0.16" textLength="19.5" lengthAdjust="spacingAndGlyphs">CCL3L1</text>
<text x="115" y="133.3" font-size="5.8" fill="#4f3a76" stroke="#4f3a76" stroke-width="0.16" textLength="19.5" lengthAdjust="spacingAndGlyphs">SLC2A6</text>
<text x="117" y="140.8" font-size="5.8" fill="#4f3a76" stroke="#4f3a76" stroke-width="0.16" textLength="21" lengthAdjust="spacingAndGlyphs">TNFAIP3</text>
<text x="84.5" y="145.3" font-size="5.8" fill="#4f3a76" stroke="#4f3a76" stroke-width="0.16" textLength="19.5" lengthAdjust="spacingAndGlyphs">CCL3L3</text>
<text x="106" y="148.3" font-size="5.8" fill="#4f3a76" stroke="#4f3a76" stroke-width="0.16" textLength="12" lengthAdjust="spacingAndGlyphs">PTX3</text>
<text x="78" y="153.8" font-size="5.8" fill="#4f3a76" stroke="#4f3a76" stroke-width="0.16" textLength="16.5" lengthAdjust="spacingAndGlyphs">KCNJ2</text>
<text x="101.5" y="156.3" font-size="5.8" fill="#4f3a76" stroke="#4f3a76" stroke-width="0.16" textLength="9.5" lengthAdjust="spacingAndGlyphs">IGKC</text>
<text x="120.5" y="156.3" font-size="5.8" fill="#4f3a76" stroke="#4f3a76" stroke-width="0.16" textLength="5.5" lengthAdjust="spacingAndGlyphs">C3</text>
<text x="82.5" y="160.8" font-size="5.8" fill="#4f3a76" stroke="#4f3a76" stroke-width="0.16" textLength="13" lengthAdjust="spacingAndGlyphs">CD83</text>
<text x="124" y="163.8" font-size="5.8" fill="#4f3a76" stroke="#4f3a76" stroke-width="0.16" textLength="21" lengthAdjust="spacingAndGlyphs">DNAAF1</text>
<text x="122.5" y="170.8" font-size="5.8" fill="#4f3a76" stroke="#4f3a76" stroke-width="0.16" textLength="15" lengthAdjust="spacingAndGlyphs">IL1RN</text>
<text x="71" y="168.8" font-size="5.8" fill="#4f3a76" stroke="#4f3a76" stroke-width="0.16" textLength="35" lengthAdjust="spacingAndGlyphs">CCL3–TTC39A</text>
<text x="57" y="176.8" font-size="5.8" fill="#4f3a76" stroke="#4f3a76" stroke-width="0.16" textLength="40" lengthAdjust="spacingAndGlyphs">CCL4L2–CXCL9</text>
<text x="102.5" y="176.8" font-size="5.8" fill="#ea7038" stroke="#ea7038" stroke-width="0.16" textLength="17" lengthAdjust="spacingAndGlyphs">NFKB2</text>
<text x="137.5" y="178.3" font-size="5.8" fill="#ea7038" stroke="#ea7038" stroke-width="0.16" textLength="6.5" lengthAdjust="spacingAndGlyphs">F3</text>
<text x="37" y="185.3" font-size="5.8" fill="#4f3a76" stroke="#4f3a76" stroke-width="0.16" textLength="23" lengthAdjust="spacingAndGlyphs">MTND5P32</text>
<text x="60" y="185.8" font-size="5.8" fill="#4f3a76" stroke="#4f3a76" stroke-width="0.16" textLength="12" lengthAdjust="spacingAndGlyphs">CCL4</text>
<text x="75.5" y="185.1" font-size="5.8" fill="#4f3a76" stroke="#4f3a76" stroke-width="0.16" textLength="17" lengthAdjust="spacingAndGlyphs">CXCL8</text>
<text x="101" y="185.1" font-size="5.8" fill="#4f3a76" stroke="#4f3a76" stroke-width="0.16" textLength="8" lengthAdjust="spacingAndGlyphs">LTA</text>
<text x="108" y="185.1" font-size="5.8" fill="#4f3a76" stroke="#4f3a76" stroke-width="0.16" textLength="16" lengthAdjust="spacingAndGlyphs">PDE4B</text>
<text x="128.8" y="185.3" font-size="5.8" fill="#4f3a76" stroke="#4f3a76" stroke-width="0.16" textLength="13.9" lengthAdjust="spacingAndGlyphs">NINJ1</text>
<text x="52.5" y="193.8" font-size="5.8" fill="#4f3a76" stroke="#4f3a76" stroke-width="0.16" textLength="14.5" lengthAdjust="spacingAndGlyphs">IFNB1</text>
<text x="70" y="193.3" font-size="5.8" fill="#4f3a76" stroke="#4f3a76" stroke-width="0.16" textLength="15.5" lengthAdjust="spacingAndGlyphs">IGKJ1</text>
<text x="87.5" y="193.3" font-size="5.8" fill="#4f3a76" stroke="#4f3a76" stroke-width="0.16" textLength="19.5" lengthAdjust="spacingAndGlyphs">TNFAIP6</text>
<text x="105" y="193.3" font-size="5.8" fill="#4f3a76" stroke="#4f3a76" stroke-width="0.16" textLength="17.5" lengthAdjust="spacingAndGlyphs">RGS20</text>
<text x="146" y="193.3" font-size="5.8" fill="#4f3a76" stroke="#4f3a76" stroke-width="0.16" textLength="15" lengthAdjust="spacingAndGlyphs">RIPK2</text>
<text x="123.8" y="199.8" font-size="5.8" fill="#4f3a76" stroke="#4f3a76" stroke-width="0.16" textLength="24.2" lengthAdjust="spacingAndGlyphs">SERPINE2</text>
<text x="149" y="199.8" font-size="5.8" fill="#4f3a76" stroke="#4f3a76" stroke-width="0.16" textLength="21.6" lengthAdjust="spacingAndGlyphs">NFKBIZ</text>
<text x="77.5" y="200.8" font-size="5.8" fill="#4f3a76" stroke="#4f3a76" stroke-width="0.16" textLength="26.5" lengthAdjust="spacingAndGlyphs">MTCYBP23</text>
<text x="37" y="205.8" font-size="5.8" fill="#4f3a76" stroke="#4f3a76" stroke-width="0.16" textLength="13.5" lengthAdjust="spacingAndGlyphs">IL12B</text>
<text x="61" y="210.3" font-size="5.8" fill="#4f3a76" stroke="#4f3a76" stroke-width="0.16" textLength="19" lengthAdjust="spacingAndGlyphs">SLC1A2</text>
<text x="84" y="210.3" font-size="5.8" fill="#4f3a76" stroke="#4f3a76" stroke-width="0.16" textLength="20" lengthAdjust="spacingAndGlyphs">CXCL10</text>
<text x="106" y="206.8" font-size="5.8" fill="#4f3a76" stroke="#4f3a76" stroke-width="0.16" textLength="20" lengthAdjust="spacingAndGlyphs">BCL2A1</text>
<text x="128.3" y="208.3" font-size="5.8" fill="#4f3a76" stroke="#4f3a76" stroke-width="0.16" textLength="11.5" lengthAdjust="spacingAndGlyphs">IL4I1</text>
<text x="37.5" y="218.8" font-size="5.8" fill="#4f3a76" stroke="#4f3a76" stroke-width="0.16" textLength="28.5" lengthAdjust="spacingAndGlyphs">RN7SL124P</text>
<text x="62" y="220.3" font-size="5.8" fill="#4f3a76" stroke="#4f3a76" stroke-width="0.16" textLength="27" lengthAdjust="spacingAndGlyphs">MTCO3P23</text>
<text x="124.2" y="215.2" font-size="5.8" fill="#4f3a76" stroke="#4f3a76" stroke-width="0.16" textLength="16.8" lengthAdjust="spacingAndGlyphs">GFPT2</text>
<text x="57.5" y="226.8" font-size="5.8" fill="#4f3a76" stroke="#4f3a76" stroke-width="0.16" textLength="20" lengthAdjust="spacingAndGlyphs">MIR3142</text>
<text x="82" y="232.8" font-size="5.8" fill="#4f3a76" stroke="#4f3a76" stroke-width="0.16" textLength="13" lengthAdjust="spacingAndGlyphs">CBY2</text>
<text x="58.75" y="245.6" font-size="5.8" fill="#4f3a76" stroke="#4f3a76" stroke-width="0.16" textLength="32.25" lengthAdjust="spacingAndGlyphs">HNRNPA1P52</text>
<text x="94.8" y="247.1" font-size="5.8" fill="#4f3a76" stroke="#4f3a76" stroke-width="0.16" textLength="42.5" lengthAdjust="spacingAndGlyphs">CLEC4E–TRIB1OT</text>
<g stroke="#3a2a55" stroke-width="0.55"><line x1="140" y1="433.5" x2="138.5" y2="438"/><line x1="122" y1="444" x2="127.75" y2="441.25"/><line x1="145" y1="460" x2="154" y2="447"/><line x1="89" y1="503" x2="93" y2="502.75"/><line x1="82.5" y1="511" x2="92" y2="505"/><line x1="88" y1="518" x2="99" y2="515"/><line x1="88" y1="528" x2="97" y2="525"/><line x1="60" y1="472" x2="67.5" y2="480.75"/><line x1="134" y1="478" x2="141" y2="476"/><line x1="149" y1="456" x2="138" y2="490"/><line x1="154" y1="470" x2="150" y2="470"/><line x1="166" y1="478" x2="150" y2="476"/><line x1="136" y1="504" x2="141" y2="509"/><line x1="143" y1="507" x2="141.2" y2="510.4"/></g>
<g fill="#2a1848"><circle cx="99.5" cy="342" r="1.15"/><circle cx="108" cy="357.5" r="1.15"/><circle cx="70.75" cy="386.75" r="1.15"/><circle cx="106.75" cy="388" r="1.15"/><circle cx="137" cy="385" r="1.15"/><circle cx="127.5" cy="387.5" r="1.15"/><circle cx="67" cy="395.5" r="1.15"/><circle cx="92" cy="400.75" r="1.15"/><circle cx="107.5" cy="412.75" r="1.15"/><circle cx="127.75" cy="418.5" r="1.15"/><circle cx="135.25" cy="418.75" r="1.15"/><circle cx="130.25" cy="423.1" r="1.15"/><circle cx="129" cy="427.5" r="1.15"/><circle cx="115" cy="439" r="1.15"/><circle cx="127.75" cy="441.25" r="1.15"/><circle cx="138.1" cy="436.25" r="1.15"/><circle cx="138.75" cy="440" r="1.15"/><circle cx="139.75" cy="441.25" r="1.15"/><circle cx="148.1" cy="439.4" r="1.15"/><circle cx="105" cy="448.1" r="1.15"/><circle cx="128.1" cy="456.9" r="1.15"/><circle cx="152.5" cy="454.4" r="1.15"/><circle cx="81.25" cy="458.75" r="1.15"/><circle cx="77" cy="474.5" r="1.15"/><circle cx="67.5" cy="480.75" r="1.15"/><circle cx="81.5" cy="486.25" r="1.15"/><circle cx="43.75" cy="495" r="1.15"/><circle cx="103.25" cy="477" r="1.15"/><circle cx="110" cy="482" r="1.15"/><circle cx="92" cy="504.5" r="1.15"/><circle cx="103" cy="507" r="1.15"/><circle cx="82.9" cy="492.25" r="1.15"/><circle cx="93.1" cy="502.75" r="1.15"/><circle cx="91.9" cy="505" r="1.15"/><circle cx="98.75" cy="515.6" r="1.15"/><circle cx="96.9" cy="525" r="1.15"/><circle cx="122.4" cy="499.6" r="1.15"/><circle cx="127.3" cy="497.8" r="1.15"/><circle cx="131.9" cy="499.6" r="1.15"/><circle cx="135.8" cy="500.8" r="1.15"/><circle cx="103" cy="506.5" r="1.15"/><circle cx="109.6" cy="508.1" r="1.15"/><circle cx="126.5" cy="505.8" r="1.15"/><circle cx="141.2" cy="510.4" r="1.15"/><circle cx="139.6" cy="509.6" r="1.15"/><circle cx="141.9" cy="508.8" r="1.15"/><circle cx="98.8" cy="514.2" r="1.15"/><circle cx="104.2" cy="514.2" r="1.15"/><circle cx="107.3" cy="515.8" r="1.15"/><circle cx="111.9" cy="514.2" r="1.15"/><circle cx="148.1" cy="515" r="1.15"/><circle cx="150.4" cy="512.7" r="1.15"/><circle cx="145" cy="518.8" r="1.15"/><circle cx="149.6" cy="519.6" r="1.15"/><circle cx="151.2" cy="521.2" r="1.15"/><circle cx="118.8" cy="520.4" r="1.15"/><circle cx="128.1" cy="523.5" r="1.15"/><circle cx="131.9" cy="522.7" r="1.15"/><circle cx="136.5" cy="522.4" r="1.15"/><circle cx="145.8" cy="522.7" r="1.15"/><circle cx="153.5" cy="523.5" r="1.15"/><circle cx="101.9" cy="525.8" r="1.15"/><circle cx="101.2" cy="527.3" r="1.15"/><circle cx="96.5" cy="525" r="1.15"/><circle cx="139.6" cy="528.8" r="1.15"/><circle cx="150.4" cy="528.1" r="1.15"/><circle cx="153.5" cy="528.1" r="1.15"/><circle cx="151.2" cy="531.2" r="1.15"/><circle cx="148.1" cy="535.3" r="1.15"/><circle cx="145" cy="460" r="1.15"/><circle cx="148" cy="466" r="1.15"/><circle cx="150" cy="470" r="1.15"/><circle cx="146" cy="474" r="1.15"/><circle cx="140" cy="468" r="1.15"/><circle cx="152" cy="476" r="1.15"/><circle cx="143" cy="482" r="1.15"/><circle cx="149" cy="484" r="1.15"/><circle cx="152" cy="488" r="1.15"/><circle cx="138" cy="490" r="1.15"/><circle cx="144" cy="492" r="1.15"/><circle cx="150" cy="494" r="1.15"/><circle cx="153" cy="498" r="1.15"/><circle cx="120" cy="476" r="1.15"/><circle cx="124" cy="484" r="1.15"/><circle cx="116" cy="492" r="1.15"/><circle cx="132" cy="488" r="1.15"/><circle cx="136" cy="496" r="1.15"/><circle cx="147" cy="502" r="1.15"/><circle cx="152" cy="505" r="1.15"/><circle cx="112" cy="470" r="1.15"/><circle cx="118" cy="458" r="1.15"/><circle cx="124" cy="450" r="1.15"/><circle cx="133" cy="452" r="1.15"/><circle cx="142" cy="450" r="1.15"/><circle cx="150" cy="448" r="1.15"/><circle cx="153" cy="460" r="1.15"/><circle cx="152.5" cy="466" r="1.15"/><circle cx="153.2" cy="472" r="1.15"/><circle cx="151.8" cy="478" r="1.15"/><circle cx="153.4" cy="484" r="1.15"/><circle cx="152.6" cy="491" r="1.15"/><circle cx="153" cy="499" r="1.15"/><circle cx="152" cy="506" r="1.15"/><circle cx="153.2" cy="514" r="1.15"/><circle cx="152.4" cy="526" r="1.15"/><circle cx="151.2" cy="533" r="1.15"/><circle cx="147" cy="470" r="1.15"/><circle cx="149" cy="478" r="1.15"/><circle cx="86" cy="466" r="1.15"/><circle cx="96" cy="469" r="1.15"/><circle cx="102" cy="460" r="1.15"/><circle cx="62" cy="478" r="1.15"/><circle cx="88" cy="478" r="1.15"/><circle cx="118" cy="430" r="1.15"/><circle cx="110" cy="432" r="1.15"/><circle cx="122" cy="432" r="1.15"/><circle cx="145" cy="428" r="1.15"/></g>
<text x="88.75" y="349.55" font-size="5.8" fill="#4f3a76" stroke="#4f3a76" stroke-width="0.16" textLength="14.5" lengthAdjust="spacingAndGlyphs">TNIP3</text>
<text x="107" y="355.3" font-size="5.8" fill="#ea7038" stroke="#ea7038" stroke-width="0.16" textLength="9.25" lengthAdjust="spacingAndGlyphs">TNF</text>
<text x="48.75" y="392.8" font-size="5.8" fill="#4f3a76" stroke="#4f3a76" stroke-width="0.16" textLength="20" lengthAdjust="spacingAndGlyphs">SLAMF7</text>
<text x="92.5" y="385.8" font-size="5.8" fill="#4f3a76" stroke="#4f3a76" stroke-width="0.16" textLength="18.75" lengthAdjust="spacingAndGlyphs">CXCL11</text>
<text x="132.5" y="382.55" font-size="5.8" fill="#4f3a76" stroke="#4f3a76" stroke-width="0.16" textLength="17" lengthAdjust="spacingAndGlyphs">PTGS2</text>
<text x="112" y="393.8" font-size="5.8" fill="#4f3a76" stroke="#4f3a76" stroke-width="0.16" textLength="22.5" lengthAdjust="spacingAndGlyphs">ZC3H12A</text>
<text x="48.75" y="402.55" font-size="5.8" fill="#4f3a76" stroke="#4f3a76" stroke-width="0.16" textLength="28.25" lengthAdjust="spacingAndGlyphs">MIR3142HG</text>
<text x="83.75" y="398.8" font-size="5.8" fill="#ea7038" stroke="#ea7038" stroke-width="0.16" textLength="8.75" lengthAdjust="spacingAndGlyphs">IL1B</text>
<text x="95.5" y="411.1" font-size="5.8" fill="#4f3a76" stroke="#4f3a76" stroke-width="0.16" textLength="15" lengthAdjust="spacingAndGlyphs">AQP9</text>
<text x="112.5" y="416.3" font-size="5.8" fill="#4f3a76" stroke="#4f3a76" stroke-width="0.16" textLength="20.5" lengthAdjust="spacingAndGlyphs">TNFAIP3</text>
<text x="137" y="416.3" font-size="5.8" fill="#4f3a76" stroke="#4f3a76" stroke-width="0.16" textLength="18" lengthAdjust="spacingAndGlyphs">SLC2A6</text>
<text x="112.5" y="425.8" font-size="5.8" fill="#4f3a76" stroke="#4f3a76" stroke-width="0.16" textLength="15" lengthAdjust="spacingAndGlyphs">BIRC3</text>
<text x="132" y="425.8" font-size="5.8" fill="#4f3a76" stroke="#4f3a76" stroke-width="0.16" textLength="13" lengthAdjust="spacingAndGlyphs">PTX3</text>
<text x="139.5" y="433.8" font-size="5.8" fill="#4f3a76" stroke="#4f3a76" stroke-width="0.16" textLength="13.5" lengthAdjust="spacingAndGlyphs">SOD2</text>
<text x="101.25" y="437.05" font-size="5.8" fill="#4f3a76" stroke="#4f3a76" stroke-width="0.16" textLength="12.5" lengthAdjust="spacingAndGlyphs">IGKC</text>
<text x="117.5" y="438.3" font-size="5.8" fill="#4f3a76" stroke="#4f3a76" stroke-width="0.16" textLength="19.5" lengthAdjust="spacingAndGlyphs">CCL3L1</text>
<text x="150.5" y="441" font-size="5.8" fill="#ea7038" stroke="#ea7038" stroke-width="0.16" textLength="5.5" lengthAdjust="spacingAndGlyphs">F3</text>
<text x="102.5" y="445.8" font-size="5.8" fill="#4f3a76" stroke="#4f3a76" stroke-width="0.16" textLength="18.75" lengthAdjust="spacingAndGlyphs">CCL3L3</text>
<text x="124.5" y="447.05" font-size="5.8" fill="#4f3a76" stroke="#4f3a76" stroke-width="0.16" textLength="13.5" lengthAdjust="spacingAndGlyphs">CD83</text>
<text x="140" y="447.05" font-size="5.8" fill="#4f3a76" stroke="#4f3a76" stroke-width="0.16" textLength="7" lengthAdjust="spacingAndGlyphs">C3</text>
<text x="157" y="447.3" font-size="5.8" fill="#ea7038" stroke="#ea7038" stroke-width="0.16" textLength="16.8" lengthAdjust="spacingAndGlyphs">NFKB2</text>
<text x="93" y="454.55" font-size="5.8" fill="#4f3a76" stroke="#4f3a76" stroke-width="0.16" textLength="13.25" lengthAdjust="spacingAndGlyphs">CCL3</text>
<text x="109.5" y="455.3" font-size="5.8" fill="#4f3a76" stroke="#4f3a76" stroke-width="0.16" textLength="16.75" lengthAdjust="spacingAndGlyphs">KCNJ2</text>
<text x="129.5" y="455.3" font-size="5.8" fill="#4f3a76" stroke="#4f3a76" stroke-width="0.16" textLength="18" lengthAdjust="spacingAndGlyphs">NFKBIA</text>
<text x="148" y="455.8" font-size="5.8" fill="#4f3a76" stroke="#4f3a76" stroke-width="0.16" textLength="17.4" lengthAdjust="spacingAndGlyphs">RIPK2</text>
<text x="59.5" y="464.8" font-size="5.8" fill="#4f3a76" stroke="#4f3a76" stroke-width="0.16" textLength="19.25" lengthAdjust="spacingAndGlyphs">CCL4L2</text>
<text x="95.5" y="464.3" font-size="5.8" fill="#4f3a76" stroke="#4f3a76" stroke-width="0.16" textLength="17" lengthAdjust="spacingAndGlyphs">CXCL9</text>
<text x="116.25" y="464.3" font-size="5.8" fill="#4f3a76" stroke="#4f3a76" stroke-width="0.16" textLength="20.25" lengthAdjust="spacingAndGlyphs">CLEC4D</text>
<text x="158.6" y="463.8" font-size="5.8" fill="#4f3a76" stroke="#4f3a76" stroke-width="0.16" textLength="16.3" lengthAdjust="spacingAndGlyphs">NFKB1</text>
<text x="63" y="472.8" font-size="5.8" fill="#4f3a76" stroke="#4f3a76" stroke-width="0.16" textLength="12" lengthAdjust="spacingAndGlyphs">CCL4</text>
<text x="80" y="474.55" font-size="5.8" fill="#4f3a76" stroke="#4f3a76" stroke-width="0.16" textLength="20" lengthAdjust="spacingAndGlyphs">TNFAIP6</text>
<text x="104" y="472.8" font-size="5.8" fill="#4f3a76" stroke="#4f3a76" stroke-width="0.16" textLength="7.25" lengthAdjust="spacingAndGlyphs">LTA</text>
<text x="116.25" y="472.8" font-size="5.8" fill="#4f3a76" stroke="#4f3a76" stroke-width="0.16" textLength="26.25" lengthAdjust="spacingAndGlyphs">RASGEF1B</text>
<text x="154.4" y="471.3" font-size="5.8" fill="#4f3a76" stroke="#4f3a76" stroke-width="0.16" textLength="24.1" lengthAdjust="spacingAndGlyphs">RETREG1</text>
<text x="111.25" y="479.55" font-size="5.8" fill="#4f3a76" stroke="#4f3a76" stroke-width="0.16" textLength="18.75" lengthAdjust="spacingAndGlyphs">TTC39A</text>
<text x="131.25" y="480.05" font-size="5.8" fill="#4f3a76" stroke="#4f3a76" stroke-width="0.16" textLength="18.25" lengthAdjust="spacingAndGlyphs">NFKBIZ</text>
<text x="155.9" y="479.8" font-size="5.8" fill="#4f3a76" stroke="#4f3a76" stroke-width="0.16" textLength="11.1" lengthAdjust="spacingAndGlyphs">RELB</text>
<text x="169.2" y="479.8" font-size="5.8" fill="#4f3a76" stroke="#4f3a76" stroke-width="0.16" textLength="26.2" lengthAdjust="spacingAndGlyphs">MIR155HG</text>
<text x="70" y="482.8" font-size="5.8" fill="#4f3a76" stroke="#4f3a76" stroke-width="0.16" textLength="26.25" lengthAdjust="spacingAndGlyphs">LINC02605</text>
<text x="52.5" y="488.3" font-size="5.8" fill="#4f3a76" stroke="#4f3a76" stroke-width="0.16" textLength="15" lengthAdjust="spacingAndGlyphs">IFNB1</text>
<text x="92" y="490.3" font-size="5.8" fill="#4f3a76" stroke="#4f3a76" stroke-width="0.16" textLength="25.5" lengthAdjust="spacingAndGlyphs">MTND5P32</text>
<text x="112" y="487.8" font-size="5.8" fill="#4f3a76" stroke="#4f3a76" stroke-width="0.16" textLength="26.75" lengthAdjust="spacingAndGlyphs">SERPINE2</text>
<text x="155" y="487.3" font-size="5.8" fill="#4f3a76" stroke="#4f3a76" stroke-width="0.16" textLength="13" lengthAdjust="spacingAndGlyphs">NINJ1</text>
<text x="53.75" y="496.3" font-size="5.8" fill="#4f3a76" stroke="#4f3a76" stroke-width="0.16" textLength="26.25" lengthAdjust="spacingAndGlyphs">MTCYBP23</text>
<text x="124.5" y="495.8" font-size="5.8" fill="#4f3a76" stroke="#4f3a76" stroke-width="0.16" textLength="25.5" lengthAdjust="spacingAndGlyphs">PDYN–AS1</text>
<text x="157" y="495.05" font-size="5.8" fill="#4f3a76" stroke="#4f3a76" stroke-width="0.16" textLength="13" lengthAdjust="spacingAndGlyphs">GBP1</text>
<text x="91.25" y="499.3" font-size="5.8" fill="#4f3a76" stroke="#4f3a76" stroke-width="0.16" textLength="28.75" lengthAdjust="spacingAndGlyphs">RN7SL124P</text>
<text x="35.5" y="502.8" font-size="5.8" fill="#4f3a76" stroke="#4f3a76" stroke-width="0.16" textLength="14" lengthAdjust="spacingAndGlyphs">IL12B</text>
<text x="155" y="502.8" font-size="5.8" fill="#4f3a76" stroke="#4f3a76" stroke-width="0.16" textLength="10" lengthAdjust="spacingAndGlyphs">IL4I1</text>
<text x="68.75" y="504.3" font-size="5.8" fill="#4f3a76" stroke="#4f3a76" stroke-width="0.16" textLength="20" lengthAdjust="spacingAndGlyphs">SLC1A2</text>
<text x="109.6" y="507.2" font-size="5.8" fill="#4f3a76" stroke="#4f3a76" stroke-width="0.16" textLength="15.4" lengthAdjust="spacingAndGlyphs">EOMES</text>
<text x="125" y="507.2" font-size="5.8" fill="#4f3a76" stroke="#4f3a76" stroke-width="0.16" textLength="13" lengthAdjust="spacingAndGlyphs">ITGAX</text>
<text x="145.8" y="510.4" font-size="5.8" fill="#4f3a76" stroke="#4f3a76" stroke-width="0.16" textLength="23" lengthAdjust="spacingAndGlyphs">ADORA2A</text>
<text x="45.5" y="512.8" font-size="5.8" fill="#4f3a76" stroke="#4f3a76" stroke-width="0.16" textLength="37" lengthAdjust="spacingAndGlyphs">RETREG1–AS1</text>
<text x="83.75" y="512.8" font-size="5.8" fill="#4f3a76" stroke="#4f3a76" stroke-width="0.16" textLength="17.5" lengthAdjust="spacingAndGlyphs">SGPP2</text>
<text x="109.5" y="514.8" font-size="5.8" fill="#4f3a76" stroke="#4f3a76" stroke-width="0.16" textLength="14.25" lengthAdjust="spacingAndGlyphs">IGKJ4</text>
<text x="73.25" y="520.55" font-size="5.8" fill="#4f3a76" stroke="#4f3a76" stroke-width="0.16" textLength="14.25" lengthAdjust="spacingAndGlyphs">IGKJ5</text>
<text x="90.5" y="522.3" font-size="5.8" fill="#4f3a76" stroke="#4f3a76" stroke-width="0.16" textLength="27" lengthAdjust="spacingAndGlyphs">MTCO3P23</text>
<text x="122.7" y="520.4" font-size="5.8" fill="#4f3a76" stroke="#4f3a76" stroke-width="0.16" textLength="19.2" lengthAdjust="spacingAndGlyphs">ADAM19</text>
<text x="74.5" y="530.55" font-size="5.8" fill="#4f3a76" stroke="#4f3a76" stroke-width="0.16" textLength="13" lengthAdjust="spacingAndGlyphs">CBY2</text>
<text x="90.5" y="533.55" font-size="5.8" fill="#4f3a76" stroke="#4f3a76" stroke-width="0.16" textLength="10.75" lengthAdjust="spacingAndGlyphs">IL1A</text>
<text x="105" y="531.5" font-size="5.8" fill="#4f3a76" stroke="#4f3a76" stroke-width="0.16" textLength="20.8" lengthAdjust="spacingAndGlyphs">MIR3142</text>
<text x="155" y="535.3" font-size="5.8" fill="#4f3a76" stroke="#4f3a76" stroke-width="0.16" textLength="13.75" lengthAdjust="spacingAndGlyphs">NSMAF</text>
<text x="137.8" y="542" font-size="5.8" fill="#4f3a76" stroke="#4f3a76" stroke-width="0.16" textLength="11" lengthAdjust="spacingAndGlyphs">CD69</text>
<g stroke="#2a4070" stroke-width="0.55"><line x1="426.1" y1="180.8" x2="433" y2="176.5"/><line x1="423" y1="188.8" x2="428" y2="184"/><line x1="424.4" y1="189.4" x2="434.5" y2="191"/><line x1="403.7" y1="192.6" x2="409.4" y2="192.6"/><line x1="409.4" y1="192.6" x2="409.4" y2="201"/><line x1="397.3" y1="200.5" x2="404" y2="196.9"/><line x1="446.3" y1="196" x2="452" y2="189"/><line x1="464.75" y1="200.25" x2="468" y2="196.5"/><line x1="464.75" y1="200.25" x2="469.75" y2="205.6"/><line x1="457.25" y1="220" x2="452.5" y2="228.1"/><line x1="493.75" y1="226.25" x2="495.25" y2="235"/><line x1="410.6" y1="172.9" x2="412" y2="170"/><line x1="402" y1="181" x2="404.5" y2="183"/><line x1="437" y1="218" x2="445" y2="216"/></g>
<g fill="#22448a"><circle cx="418.6" cy="154" r="1.1"/><circle cx="406.4" cy="167.5" r="1.1"/><circle cx="410.6" cy="172.9" r="1.1"/><circle cx="401.3" cy="181.3" r="1.1"/><circle cx="404.2" cy="183.1" r="1.1"/><circle cx="406.5" cy="183.6" r="1.1"/><circle cx="407.1" cy="182.5" r="1.1"/><circle cx="426.1" cy="180.8" r="1.1"/><circle cx="418.6" cy="187.7" r="1.1"/><circle cx="422.7" cy="188.8" r="1.1"/><circle cx="424.4" cy="189.4" r="1.1"/><circle cx="409.4" cy="192.6" r="1.1"/><circle cx="414" cy="192.9" r="1.1"/><circle cx="404" cy="196.9" r="1.1"/><circle cx="446.3" cy="196" r="1.1"/><circle cx="437.4" cy="207.3" r="1.1"/><circle cx="405.4" cy="209" r="1.1"/><circle cx="406" cy="211" r="1.1"/><circle cx="401.9" cy="214.4" r="1.1"/><circle cx="406.5" cy="214.4" r="1.1"/><circle cx="412" cy="211" r="1.1"/><circle cx="413.5" cy="214.4" r="1.1"/><circle cx="418.6" cy="213.8" r="1.1"/><circle cx="437.1" cy="207.8" r="1.1"/><circle cx="433.1" cy="215.6" r="1.1"/><circle cx="447.8" cy="214.8" r="1.1"/><circle cx="444.6" cy="217.3" r="1.1"/><circle cx="401.3" cy="218.5" r="1.1"/><circle cx="416.9" cy="218.5" r="1.1"/><circle cx="417.5" cy="220.8" r="1.1"/><circle cx="411.7" cy="221.9" r="1.1"/><circle cx="401.3" cy="222.5" r="1.1"/><circle cx="436" cy="222.5" r="1.1"/><circle cx="401.9" cy="230.6" r="1.1"/><circle cx="407.1" cy="230.6" r="1.1"/><circle cx="408.8" cy="230" r="1.1"/><circle cx="412.9" cy="233.4" r="1.1"/><circle cx="418.1" cy="233.4" r="1.1"/><circle cx="436" cy="226.5" r="1.1"/><circle cx="440.6" cy="230.9" r="1.1"/><circle cx="450.9" cy="231.1" r="1.1"/><circle cx="400.2" cy="237.5" r="1.1"/><circle cx="418.1" cy="237.5" r="1.1"/><circle cx="419.8" cy="236.9" r="1.1"/><circle cx="423.3" cy="237.1" r="1.1"/><circle cx="426.1" cy="237.1" r="1.1"/><circle cx="411.1" cy="238.6" r="1.1"/><circle cx="432.5" cy="239.2" r="1.1"/><circle cx="448.6" cy="241.3" r="1.1"/><circle cx="452.7" cy="234.6" r="1.1"/><circle cx="404.2" cy="242.7" r="1.1"/><circle cx="410" cy="241.5" r="1.1"/><circle cx="414" cy="242.7" r="1.1"/><circle cx="428.4" cy="243.8" r="1.1"/><circle cx="399.6" cy="246.1" r="1.1"/><circle cx="464.75" cy="200.25" r="1.1"/><circle cx="469.75" cy="205.6" r="1.1"/><circle cx="471.9" cy="210" r="1.1"/><circle cx="457.75" cy="213.75" r="1.1"/><circle cx="452.75" cy="228.1" r="1.1"/><circle cx="453" cy="229" r="1.1"/><circle cx="460" cy="230" r="1.1"/><circle cx="463.75" cy="234.4" r="1.1"/><circle cx="451" cy="231.25" r="1.1"/><circle cx="453.75" cy="235" r="1.1"/><circle cx="461.25" cy="239.75" r="1.1"/><circle cx="475.6" cy="240.6" r="1.1"/><circle cx="473.1" cy="243.1" r="1.1"/><circle cx="481.25" cy="238.5" r="1.1"/><circle cx="483.5" cy="239.4" r="1.1"/><circle cx="487.25" cy="238.1" r="1.1"/><circle cx="495.25" cy="235" r="1.1"/><circle cx="501.25" cy="234.4" r="1.1"/><circle cx="455" cy="241.25" r="1.1"/><circle cx="452.5" cy="243.1" r="1.1"/><circle cx="456.25" cy="244.4" r="1.1"/><circle cx="461.25" cy="244.75" r="1.1"/><circle cx="452.5" cy="246.9" r="1.1"/><circle cx="400.21" cy="249.79" r="1.1"/><circle cx="407.99" cy="246.2" r="1.1"/><circle cx="424.45" cy="246.33" r="1.1"/><circle cx="403.44" cy="248.52" r="1.1"/><circle cx="422.6" cy="246.69" r="1.1"/><circle cx="400.48" cy="246.54" r="1.1"/><circle cx="417.92" cy="250.17" r="1.1"/><circle cx="415.18" cy="248.68" r="1.1"/><circle cx="434.07" cy="246.31" r="1.1"/><circle cx="419.43" cy="247.33" r="1.1"/><circle cx="412.4" cy="246.95" r="1.1"/><circle cx="400.01" cy="247.11" r="1.1"/><circle cx="401.8" cy="247.78" r="1.1"/><circle cx="403.09" cy="248.81" r="1.1"/><circle cx="401.71" cy="248.8" r="1.1"/><circle cx="426.96" cy="248.06" r="1.1"/><circle cx="412.43" cy="247.83" r="1.1"/><circle cx="450.41" cy="248.76" r="1.1"/><circle cx="426.34" cy="248.23" r="1.1"/><circle cx="465.72" cy="248.89" r="1.1"/><circle cx="436.16" cy="249.3" r="1.1"/><circle cx="405.6" cy="247.16" r="1.1"/><circle cx="425.63" cy="249.19" r="1.1"/><circle cx="399.15" cy="246.75" r="1.1"/><circle cx="411.77" cy="247.22" r="1.1"/><circle cx="415.23" cy="247.64" r="1.1"/><circle cx="424.4" cy="246.1" r="1.1"/><circle cx="457.66" cy="248.34" r="1.1"/><circle cx="418.94" cy="249.31" r="1.1"/><circle cx="441.42" cy="249.86" r="1.1"/><circle cx="407.81" cy="246.66" r="1.1"/><circle cx="398.73" cy="247.3" r="1.1"/><circle cx="425.08" cy="247.93" r="1.1"/><circle cx="409.22" cy="249.65" r="1.1"/><circle cx="462.29" cy="247.01" r="1.1"/><circle cx="446.64" cy="249.88" r="1.1"/><circle cx="444.46" cy="249.36" r="1.1"/><circle cx="402.98" cy="248" r="1.1"/><circle cx="428.48" cy="249.78" r="1.1"/><circle cx="442.57" cy="247.8" r="1.1"/><circle cx="456.54" cy="246.33" r="1.1"/><circle cx="435.42" cy="248.73" r="1.1"/><circle cx="462.31" cy="247.21" r="1.1"/><circle cx="407.02" cy="246.61" r="1.1"/><circle cx="438.91" cy="249.16" r="1.1"/><circle cx="405.05" cy="250.21" r="1.1"/><circle cx="422.67" cy="249.21" r="1.1"/><circle cx="407.12" cy="249.21" r="1.1"/><circle cx="400.71" cy="248.22" r="1.1"/><circle cx="406.13" cy="249.07" r="1.1"/><circle cx="406.37" cy="248.11" r="1.1"/><circle cx="453.76" cy="249.61" r="1.1"/><circle cx="452.24" cy="246.62" r="1.1"/><circle cx="428.44" cy="247.96" r="1.1"/><circle cx="439.58" cy="248" r="1.1"/><circle cx="432.79" cy="246.35" r="1.1"/><circle cx="443.58" cy="249.18" r="1.1"/><circle cx="398.99" cy="246.27" r="1.1"/><circle cx="410.89" cy="246.91" r="1.1"/><circle cx="404.36" cy="248.35" r="1.1"/><circle cx="411.35" cy="247.16" r="1.1"/><circle cx="461.47" cy="248.13" r="1.1"/><circle cx="424.91" cy="248.8" r="1.1"/><circle cx="404.31" cy="246.22" r="1.1"/><circle cx="400.14" cy="246.26" r="1.1"/><circle cx="432.54" cy="249.99" r="1.1"/><circle cx="456.79" cy="249.86" r="1.1"/><circle cx="424.87" cy="249.79" r="1.1"/><circle cx="466.68" cy="248.97" r="1.1"/><circle cx="453.58" cy="250.04" r="1.1"/><circle cx="431.83" cy="243.79" r="1.1"/><circle cx="399.08" cy="225.7" r="1.1"/><circle cx="453.74" cy="220.53" r="1.1"/><circle cx="444.61" cy="215.81" r="1.1"/><circle cx="422.72" cy="243.57" r="1.1"/><circle cx="423.07" cy="240.55" r="1.1"/><circle cx="423.05" cy="234.62" r="1.1"/><circle cx="421.39" cy="240.14" r="1.1"/><circle cx="434.37" cy="232.16" r="1.1"/><circle cx="420.61" cy="243.53" r="1.1"/><circle cx="420.67" cy="226.28" r="1.1"/><circle cx="452.99" cy="226.11" r="1.1"/><circle cx="461.74" cy="242.7" r="1.1"/><circle cx="471.78" cy="234.26" r="1.1"/><circle cx="501.94" cy="228.5" r="1.1"/><circle cx="502.5" cy="229.57" r="1.1"/><circle cx="497.93" cy="229.37" r="1.1"/><circle cx="456.01" cy="238.72" r="1.1"/><circle cx="484.53" cy="234.6" r="1.1"/><circle cx="485.64" cy="236.12" r="1.1"/><circle cx="501.66" cy="247.19" r="1.1"/><circle cx="480.96" cy="228.85" r="1.1"/></g>
<g fill="#1a1a2e"><circle cx="412.5" cy="80" r="1.2"/><circle cx="420" cy="44.25" r="1.2"/><circle cx="323" cy="249.5" r="1.2"/></g>
<text x="410" y="51.3" font-size="5.8" fill="#ea7038" stroke="#ea7038" stroke-width="0.16" textLength="12" lengthAdjust="spacingAndGlyphs">IRF7</text>
<text x="402.5" y="87.05" font-size="5.8" fill="#ea7038" stroke="#ea7038" stroke-width="0.16" textLength="11.25" lengthAdjust="spacingAndGlyphs">IRF1</text>
<text x="417.1" y="152.8" font-size="5.8" fill="#34558f" stroke="#34558f" stroke-width="0.16" textLength="12" lengthAdjust="spacingAndGlyphs">CISH</text>
<text x="389.9" y="164.1" font-size="5.8" fill="#6e2f88" stroke="#6e2f88" stroke-width="0.16" textLength="15.9" lengthAdjust="spacingAndGlyphs">APOL6</text>
<text x="409.9" y="171.6" font-size="5.8" fill="#34558f" stroke="#34558f" stroke-width="0.16" textLength="20" lengthAdjust="spacingAndGlyphs">SAMD9L</text>
<text x="386.7" y="179.3" font-size="5.8" fill="#34558f" stroke="#34558f" stroke-width="0.16" textLength="18.3" lengthAdjust="spacingAndGlyphs">TRIM22</text>
<text x="408.2" y="180.5" font-size="5.8" fill="#34558f" stroke="#34558f" stroke-width="0.16" textLength="15.2" lengthAdjust="spacingAndGlyphs">SP110</text>
<text x="433" y="178.8" font-size="5.8" fill="#34558f" stroke="#34558f" stroke-width="0.16" textLength="16.8" lengthAdjust="spacingAndGlyphs">PARP9</text>
<text x="377.6" y="187.3" font-size="5.8" fill="#34558f" stroke="#34558f" stroke-width="0.16" textLength="20.8" lengthAdjust="spacingAndGlyphs">BCL2L11</text>
<text x="427.5" y="186.5" font-size="5.8" fill="#34558f" stroke="#34558f" stroke-width="0.16" textLength="13.7" lengthAdjust="spacingAndGlyphs">OAS1</text>
<text x="408.2" y="190.1" font-size="5.8" fill="#34558f" stroke="#34558f" stroke-width="0.16" textLength="10.8" lengthAdjust="spacingAndGlyphs">IFI16</text>
<text x="452.2" y="188.8" font-size="5.8" fill="#34558f" stroke="#34558f" stroke-width="0.16" textLength="16.8" lengthAdjust="spacingAndGlyphs">CMPK2</text>
<text x="392" y="194.3" font-size="5.8" fill="#34558f" stroke="#34558f" stroke-width="0.16" textLength="11.7" lengthAdjust="spacingAndGlyphs">IFIH1</text>
<text x="434.7" y="193.7" font-size="5.8" fill="#34558f" stroke="#34558f" stroke-width="0.16" textLength="13.2" lengthAdjust="spacingAndGlyphs">GBP4</text>
<text x="415.4" y="199.7" font-size="5.8" fill="#34558f" stroke="#34558f" stroke-width="0.16" textLength="16.1" lengthAdjust="spacingAndGlyphs">HELZ2</text>
<text x="465.2" y="196.6" font-size="5.8" fill="#34558f" stroke="#34558f" stroke-width="0.16" textLength="13.9" lengthAdjust="spacingAndGlyphs">GGT5</text>
<text x="376.6" y="203.2" font-size="5.8" fill="#34558f" stroke="#34558f" stroke-width="0.16" textLength="20.7" lengthAdjust="spacingAndGlyphs">EIF2AK2</text>
<text x="433.5" y="204.5" font-size="5.8" fill="#34558f" stroke="#34558f" stroke-width="0.16" textLength="12.7" lengthAdjust="spacingAndGlyphs">OASL</text>
<text x="449.8" y="204.5" font-size="5.8" fill="#34558f" stroke="#34558f" stroke-width="0.16" textLength="12.5" lengthAdjust="spacingAndGlyphs">IFIT3</text>
<text x="400.3" y="207" font-size="5.8" fill="#34558f" stroke="#34558f" stroke-width="0.16" textLength="19.2" lengthAdjust="spacingAndGlyphs">PARP14</text>
<text x="379.5" y="214.6" font-size="5.8" fill="#34558f" stroke="#34558f" stroke-width="0.16" textLength="19.9" lengthAdjust="spacingAndGlyphs">TNFSF10</text>
<text x="423" y="213.3" font-size="5.8" fill="#34558f" stroke="#34558f" stroke-width="0.16" textLength="10.8" lengthAdjust="spacingAndGlyphs">PIM1</text>
<text x="442.5" y="212" font-size="5.8" fill="#34558f" stroke="#34558f" stroke-width="0.16" textLength="12.9" lengthAdjust="spacingAndGlyphs">OAS2</text>
<text x="458" y="211.8" font-size="5.8" fill="#34558f" stroke="#34558f" stroke-width="0.16" textLength="10.9" lengthAdjust="spacingAndGlyphs">MX1</text>
<text x="472.9" y="216.8" font-size="5.8" fill="#34558f" stroke="#34558f" stroke-width="0.16" textLength="12.1" lengthAdjust="spacingAndGlyphs">IFIT2</text>
<text x="425.8" y="221.4" font-size="5.8" fill="#34558f" stroke="#34558f" stroke-width="0.16" textLength="12.1" lengthAdjust="spacingAndGlyphs">IFI44</text>
<text x="457.5" y="220.6" font-size="5.8" fill="#34558f" stroke="#34558f" stroke-width="0.16" textLength="8.7" lengthAdjust="spacingAndGlyphs">CFH</text>
<text x="441.4" y="224.1" font-size="5.8" fill="#34558f" stroke="#34558f" stroke-width="0.16" textLength="12.6" lengthAdjust="spacingAndGlyphs">GBP5</text>
<text x="482.9" y="224.6" font-size="5.8" fill="#34558f" stroke="#34558f" stroke-width="0.16" textLength="19.6" lengthAdjust="spacingAndGlyphs">HAPLN3</text>
<text x="401" y="226.8" font-size="5.8" fill="#34558f" stroke="#34558f" stroke-width="0.16" textLength="10.8" lengthAdjust="spacingAndGlyphs">XAF1</text>
<text x="414.5" y="230.8" font-size="5.8" fill="#6e2f88" stroke="#6e2f88" stroke-width="0.16" textLength="20.7" lengthAdjust="spacingAndGlyphs">RAB1AP1</text>
<text x="462.1" y="228.6" font-size="5.8" fill="#34558f" stroke="#34558f" stroke-width="0.16" textLength="17.5" lengthAdjust="spacingAndGlyphs">EPSTI1</text>
<text x="487.2" y="232.1" font-size="5.8" fill="#6e2f88" stroke="#6e2f88" stroke-width="0.16" textLength="19.8" lengthAdjust="spacingAndGlyphs">GBP1P1</text>
<text x="471.5" y="236.2" font-size="5.8" fill="#34558f" stroke="#34558f" stroke-width="0.16" textLength="12.2" lengthAdjust="spacingAndGlyphs">IFIT5</text>
<text x="437.9" y="238.9" font-size="5.8" fill="#34558f" stroke="#34558f" stroke-width="0.16" textLength="12.6" lengthAdjust="spacingAndGlyphs">CSF1</text>
<text x="485.5" y="246.4" font-size="5.8" fill="#34558f" stroke="#34558f" stroke-width="0.16" textLength="13" lengthAdjust="spacingAndGlyphs">GBP1</text>
<text x="302" y="256.3" font-size="5.8" fill="#6e2f88" stroke="#6e2f88" stroke-width="0.16" textLength="32.5" lengthAdjust="spacingAndGlyphs">PHLDA1–AS1</text>
<g stroke="#2a4070" stroke-width="0.55"><line x1="452" y1="490" x2="446.1" y2="508.1"/><line x1="463" y1="489.5" x2="447" y2="510"/><line x1="477" y1="497.5" x2="468.1" y2="505.2"/><line x1="495" y1="529.5" x2="491.2" y2="537.7"/><line x1="480" y1="547" x2="486" y2="539"/><line x1="443.1" y1="513.75" x2="450" y2="496"/><line x1="429.4" y1="517" x2="422.5" y2="521.25"/><line x1="428.75" y1="500" x2="437.5" y2="495.6"/><line x1="401.25" y1="480.5" x2="406.9" y2="503.1"/><line x1="418" y1="489" x2="413" y2="495"/><line x1="402" y1="497" x2="406" y2="497"/><line x1="388" y1="511.5" x2="405" y2="509"/><line x1="422.5" y1="503" x2="425" y2="508.75"/></g>
<g fill="#22448a"><circle cx="427.5" cy="458.75" r="1.1"/><circle cx="414.5" cy="474.25" r="1.1"/><circle cx="410.6" cy="500.6" r="1.1"/><circle cx="416.25" cy="500" r="1.1"/><circle cx="422.5" cy="500.6" r="1.1"/><circle cx="428.75" cy="500" r="1.1"/><circle cx="406.9" cy="503.1" r="1.1"/><circle cx="416.25" cy="507.5" r="1.1"/><circle cx="425" cy="508.75" r="1.1"/><circle cx="411.9" cy="510" r="1.1"/><circle cx="412.5" cy="515" r="1.1"/><circle cx="415.6" cy="518.1" r="1.1"/><circle cx="419" cy="520" r="1.1"/><circle cx="422.5" cy="521.25" r="1.1"/><circle cx="443.1" cy="513.75" r="1.1"/><circle cx="446.25" cy="508.1" r="1.1"/><circle cx="445.6" cy="522.5" r="1.1"/><circle cx="409.4" cy="521.25" r="1.1"/><circle cx="406.9" cy="524.4" r="1.1"/><circle cx="410" cy="530.6" r="1.1"/><circle cx="416.9" cy="528.75" r="1.1"/><circle cx="427.5" cy="532.5" r="1.1"/><circle cx="434.4" cy="532.5" r="1.1"/><circle cx="436.25" cy="536.25" r="1.1"/><circle cx="436.25" cy="539.4" r="1.1"/><circle cx="428.75" cy="538.1" r="1.1"/><circle cx="409.4" cy="535" r="1.1"/><circle cx="413.1" cy="534.4" r="1.1"/><circle cx="420" cy="538.75" r="1.1"/><circle cx="423.75" cy="540" r="1.1"/><circle cx="426.9" cy="541.9" r="1.1"/><circle cx="407.5" cy="537.5" r="1.1"/><circle cx="451.5" cy="501.2" r="1.1"/><circle cx="446.1" cy="508.1" r="1.1"/><circle cx="468.1" cy="505.2" r="1.1"/><circle cx="475.4" cy="507.8" r="1.1"/><circle cx="477.8" cy="511.7" r="1.1"/><circle cx="460.9" cy="517" r="1.1"/><circle cx="450.4" cy="519.3" r="1.1"/><circle cx="445.5" cy="522.2" r="1.1"/><circle cx="472.5" cy="532.6" r="1.1"/><circle cx="448.7" cy="530.5" r="1.1"/><circle cx="453.7" cy="530.9" r="1.1"/><circle cx="450.4" cy="533.3" r="1.1"/><circle cx="461.4" cy="530.5" r="1.1"/><circle cx="460.2" cy="533.3" r="1.1"/><circle cx="459.5" cy="535.5" r="1.1"/><circle cx="491.2" cy="537.7" r="1.1"/><circle cx="495.6" cy="535.8" r="1.1"/><circle cx="501.3" cy="535.2" r="1.1"/><circle cx="485" cy="538.1" r="1.1"/><circle cx="486.2" cy="539.8" r="1.1"/><circle cx="468.1" cy="538.7" r="1.1"/><circle cx="458.8" cy="539.8" r="1.1"/><circle cx="461.6" cy="541.6" r="1.1"/><circle cx="463.1" cy="543.4" r="1.1"/><circle cx="466" cy="544.2" r="1.1"/><circle cx="469.6" cy="543.4" r="1.1"/><circle cx="474.6" cy="543" r="1.1"/><circle cx="479" cy="540.6" r="1.1"/><circle cx="479" cy="542" r="1.1"/><circle cx="458.8" cy="543.9" r="1.1"/><circle cx="451.5" cy="542" r="1.1"/><circle cx="442.9" cy="546.3" r="1.1"/><circle cx="445.8" cy="546.3" r="1.1"/><circle cx="449.4" cy="544.2" r="1.1"/><circle cx="408" cy="491" r="1.1"/><circle cx="411" cy="494" r="1.1"/><circle cx="405" cy="495" r="1.1"/><circle cx="418" cy="493" r="1.1"/><circle cx="399" cy="486" r="1.1"/><circle cx="401" cy="489" r="1.1"/><circle cx="407.56" cy="547.33" r="1.1"/><circle cx="450.93" cy="542.26" r="1.1"/><circle cx="407.53" cy="547.81" r="1.1"/><circle cx="447.09" cy="543.87" r="1.1"/><circle cx="423.03" cy="544.52" r="1.1"/><circle cx="440.48" cy="543.15" r="1.1"/><circle cx="407.5" cy="547.59" r="1.1"/><circle cx="443.77" cy="542.15" r="1.1"/><circle cx="447.44" cy="545.55" r="1.1"/><circle cx="413.97" cy="545.92" r="1.1"/><circle cx="407.51" cy="543.38" r="1.1"/><circle cx="411.45" cy="544.49" r="1.1"/><circle cx="423.42" cy="545.99" r="1.1"/><circle cx="433.69" cy="545.27" r="1.1"/><circle cx="410.66" cy="542.71" r="1.1"/><circle cx="409.28" cy="547.1" r="1.1"/><circle cx="411.19" cy="545.13" r="1.1"/><circle cx="442.81" cy="546" r="1.1"/><circle cx="410.76" cy="544.07" r="1.1"/><circle cx="411.39" cy="544.86" r="1.1"/><circle cx="411.24" cy="542.74" r="1.1"/><circle cx="409.46" cy="546.61" r="1.1"/><circle cx="412.73" cy="546.02" r="1.1"/><circle cx="437.84" cy="543.96" r="1.1"/><circle cx="443.41" cy="544.76" r="1.1"/><circle cx="407.85" cy="543.42" r="1.1"/><circle cx="410.94" cy="546.69" r="1.1"/><circle cx="417.37" cy="542.06" r="1.1"/><circle cx="415.4" cy="545.86" r="1.1"/><circle cx="455.22" cy="542.06" r="1.1"/><circle cx="416.12" cy="547.19" r="1.1"/><circle cx="443.35" cy="543.31" r="1.1"/><circle cx="414.08" cy="543.26" r="1.1"/><circle cx="415.78" cy="546.28" r="1.1"/><circle cx="427.74" cy="543.55" r="1.1"/><circle cx="420.52" cy="543.09" r="1.1"/><circle cx="407.51" cy="545.01" r="1.1"/><circle cx="415.82" cy="547.61" r="1.1"/><circle cx="436.44" cy="538.62" r="1.1"/><circle cx="411.66" cy="510.99" r="1.1"/><circle cx="438.34" cy="508.41" r="1.1"/><circle cx="415.55" cy="508.44" r="1.1"/><circle cx="410.06" cy="518.51" r="1.1"/><circle cx="437.72" cy="537.41" r="1.1"/><circle cx="409.92" cy="520.1" r="1.1"/><circle cx="435.13" cy="517.99" r="1.1"/><circle cx="437.87" cy="529.09" r="1.1"/><circle cx="416.5" cy="539.15" r="1.1"/><circle cx="413.51" cy="508.04" r="1.1"/><circle cx="408.56" cy="537.61" r="1.1"/><circle cx="415.73" cy="540.47" r="1.1"/><circle cx="414.5" cy="537.66" r="1.1"/><circle cx="409.63" cy="526.32" r="1.1"/><circle cx="422.1" cy="524.7" r="1.1"/><circle cx="430.34" cy="526.33" r="1.1"/><circle cx="437.78" cy="539.92" r="1.1"/><circle cx="470.03" cy="546.62" r="1.1"/><circle cx="473.92" cy="534.31" r="1.1"/><circle cx="501.59" cy="538.93" r="1.1"/><circle cx="467.21" cy="542.05" r="1.1"/></g>
<g fill="#1a1a2e"><circle cx="334.5" cy="546.5" r="1.2"/><circle cx="421.25" cy="394.5" r="1.2"/><circle cx="430.75" cy="342.5" r="1.2"/></g>
<text x="429.5" y="340.8" font-size="5.8" fill="#ea7038" stroke="#ea7038" stroke-width="0.16" textLength="10.5" lengthAdjust="spacingAndGlyphs">IRF7</text>
<text x="412" y="401.3" font-size="5.8" fill="#ea7038" stroke="#ea7038" stroke-width="0.16" textLength="10.5" lengthAdjust="spacingAndGlyphs">IRF1</text>
<text x="418" y="465.05" font-size="5.8" fill="#34558f" stroke="#34558f" stroke-width="0.16" textLength="12.5" lengthAdjust="spacingAndGlyphs">CISH</text>
<text x="408.75" y="471.3" font-size="5.8" fill="#34558f" stroke="#34558f" stroke-width="0.16" textLength="16.75" lengthAdjust="spacingAndGlyphs">APOL6</text>
<text x="380.5" y="483.3" font-size="5.8" fill="#34558f" stroke="#34558f" stroke-width="0.16" textLength="20.75" lengthAdjust="spacingAndGlyphs">BCL2L11</text>
<text x="406.25" y="483.3" font-size="5.8" fill="#34558f" stroke="#34558f" stroke-width="0.16" textLength="15.75" lengthAdjust="spacingAndGlyphs">HELZ2</text>
<text x="424.5" y="483.3" font-size="5.8" fill="#34558f" stroke="#34558f" stroke-width="0.16" textLength="16.75" lengthAdjust="spacingAndGlyphs">PARP9</text>
<text x="373.75" y="490.8" font-size="5.8" fill="#34558f" stroke="#34558f" stroke-width="0.16" textLength="44.25" lengthAdjust="spacingAndGlyphs">TRIM22–SAMD9L</text>
<text x="420" y="490.8" font-size="5.8" fill="#34558f" stroke="#34558f" stroke-width="0.16" textLength="13.75" lengthAdjust="spacingAndGlyphs">OAS1</text>
<text x="444.3" y="489.4" font-size="5.8" fill="#34558f" stroke="#34558f" stroke-width="0.16" textLength="10.1" lengthAdjust="spacingAndGlyphs">OASL</text>
<text x="461.6" y="489" font-size="5.8" fill="#34558f" stroke="#34558f" stroke-width="0.16" textLength="17.1" lengthAdjust="spacingAndGlyphs">CMPK2</text>
<text x="393.75" y="498.3" font-size="5.8" fill="#34558f" stroke="#34558f" stroke-width="0.16" textLength="11.25" lengthAdjust="spacingAndGlyphs">IFI16</text>
<text x="413.75" y="498.3" font-size="5.8" fill="#34558f" stroke="#34558f" stroke-width="0.16" textLength="13.25" lengthAdjust="spacingAndGlyphs">IFIH1</text>
<text x="437" y="497.8" font-size="5.8" fill="#34558f" stroke="#34558f" stroke-width="0.16" textLength="11" lengthAdjust="spacingAndGlyphs">GBP4</text>
<text x="454.4" y="501.7" font-size="5.8" fill="#34558f" stroke="#34558f" stroke-width="0.16" textLength="11.6" lengthAdjust="spacingAndGlyphs">PIM1</text>
<text x="476.8" y="497.3" font-size="5.8" fill="#34558f" stroke="#34558f" stroke-width="0.16" textLength="14" lengthAdjust="spacingAndGlyphs">GGT5</text>
<text x="384.5" y="505.8" font-size="5.8" fill="#34558f" stroke="#34558f" stroke-width="0.16" textLength="38" lengthAdjust="spacingAndGlyphs">SP110–PLSCR1</text>
<text x="425.25" y="505.8" font-size="5.8" fill="#34558f" stroke="#34558f" stroke-width="0.16" textLength="16" lengthAdjust="spacingAndGlyphs">FBXO6</text>
<text x="471" y="504.8" font-size="5.8" fill="#34558f" stroke="#34558f" stroke-width="0.16" textLength="11.1" lengthAdjust="spacingAndGlyphs">IFIT3</text>
<text x="454.7" y="509.9" font-size="5.8" fill="#34558f" stroke="#34558f" stroke-width="0.16" textLength="12" lengthAdjust="spacingAndGlyphs">IFI44</text>
<text x="367.5" y="515.5" font-size="5.8" fill="#34558f" stroke="#34558f" stroke-width="0.16" textLength="20.5" lengthAdjust="spacingAndGlyphs">EIF2AK2</text>
<text x="391.25" y="516.8" font-size="5.8" fill="#34558f" stroke="#34558f" stroke-width="0.16" textLength="18.75" lengthAdjust="spacingAndGlyphs">PARP14</text>
<text x="415" y="515.55" font-size="5.8" fill="#34558f" stroke="#34558f" stroke-width="0.16" textLength="13" lengthAdjust="spacingAndGlyphs">TAGAP</text>
<text x="431.25" y="512.4" font-size="5.8" fill="#34558f" stroke="#34558f" stroke-width="0.16" textLength="12.5" lengthAdjust="spacingAndGlyphs">SOCS1</text>
<text x="480.1" y="514.2" font-size="5.8" fill="#34558f" stroke="#34558f" stroke-width="0.16" textLength="11.6" lengthAdjust="spacingAndGlyphs">IFIT2</text>
<text x="446.9" y="517.8" font-size="5.8" fill="#34558f" stroke="#34558f" stroke-width="0.16" textLength="12.6" lengthAdjust="spacingAndGlyphs">OAS2</text>
<text x="429.4" y="520.55" font-size="5.8" fill="#34558f" stroke="#34558f" stroke-width="0.16" textLength="17.5" lengthAdjust="spacingAndGlyphs">PARP12</text>
<text x="463.8" y="520.3" font-size="5.8" fill="#34558f" stroke="#34558f" stroke-width="0.16" textLength="10.1" lengthAdjust="spacingAndGlyphs">MX1</text>
<text x="477.8" y="521.7" font-size="5.8" fill="#34558f" stroke="#34558f" stroke-width="0.16" textLength="14.9" lengthAdjust="spacingAndGlyphs">BATF2</text>
<text x="391.9" y="524.3" font-size="5.8" fill="#34558f" stroke="#34558f" stroke-width="0.16" textLength="10.6" lengthAdjust="spacingAndGlyphs">MX2</text>
<text x="403" y="526.55" font-size="5.8" fill="#34558f" stroke="#34558f" stroke-width="0.16" textLength="15.75" lengthAdjust="spacingAndGlyphs">RSAD2</text>
<text x="419.4" y="528.05" font-size="5.8" fill="#34558f" stroke="#34558f" stroke-width="0.16" textLength="14.35" lengthAdjust="spacingAndGlyphs">ITGB7</text>
<text x="433.75" y="528.05" font-size="5.8" fill="#34558f" stroke="#34558f" stroke-width="0.16" textLength="13.15" lengthAdjust="spacingAndGlyphs">GBP1</text>
<text x="451.3" y="528.9" font-size="5.8" fill="#34558f" stroke="#34558f" stroke-width="0.16" textLength="29.8" lengthAdjust="spacingAndGlyphs">GBP5SOCS3</text>
<text x="489.1" y="529.4" font-size="5.8" fill="#34558f" stroke="#34558f" stroke-width="0.16" textLength="20.2" lengthAdjust="spacingAndGlyphs">HAPLN3</text>
<text x="392.5" y="533.7" font-size="5.8" fill="#34558f" stroke="#34558f" stroke-width="0.16" textLength="13.1" lengthAdjust="spacingAndGlyphs">TAP1</text>
<text x="415.6" y="534.9" font-size="5.8" fill="#34558f" stroke="#34558f" stroke-width="0.16" textLength="8.15" lengthAdjust="spacingAndGlyphs">XAF1</text>
<text x="474.9" y="535.9" font-size="5.8" fill="#34558f" stroke="#34558f" stroke-width="0.16" textLength="11.6" lengthAdjust="spacingAndGlyphs">IFIT5</text>
<text x="439.4" y="541" font-size="5.8" fill="#34558f" stroke="#34558f" stroke-width="0.16" textLength="9.6" lengthAdjust="spacingAndGlyphs">CFH</text>
<text x="489.8" y="546" font-size="5.8" fill="#34558f" stroke="#34558f" stroke-width="0.16" textLength="18.7" lengthAdjust="spacingAndGlyphs">GBP1P1</text>
<text x="472" y="550.3" font-size="5.8" fill="#34558f" stroke="#34558f" stroke-width="0.16" textLength="12.7" lengthAdjust="spacingAndGlyphs">GBP1</text>
<text x="322.5" y="552.4" font-size="5.8" fill="#34558f" stroke="#34558f" stroke-width="0.16" textLength="15.5" lengthAdjust="spacingAndGlyphs">F2RL3</text>
<rect x="0.5" y="0.5" width="519" height="593" fill="none" stroke="#5c5c5c" stroke-width="1"/>
</svg>
</body></html>
